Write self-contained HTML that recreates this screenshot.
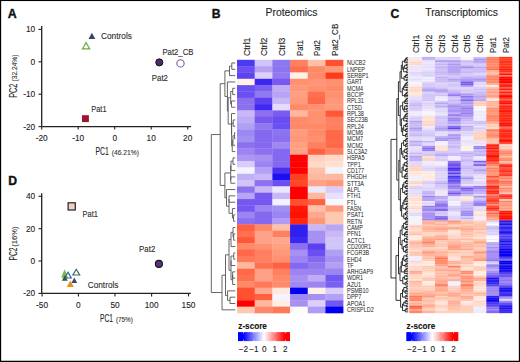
<!DOCTYPE html>
<html><head><meta charset="utf-8"><style>
html,body{margin:0;padding:0;background:#fff;width:520px;height:362px;overflow:hidden}
svg{display:block}
text{font-family:"Liberation Sans", sans-serif}
</style></head><body>
<svg width="520" height="362" viewBox="0 0 520 362">
<rect x="0" y="0" width="520" height="362" fill="#fff"/>
<text x="7.80" y="17.80" font-size="12.4" fill="#111" stroke="#111" stroke-width="0.35" font-weight="bold">A</text>
<path d="M41.7 26.0V126.6M41.7 126.6H191.1" stroke="#222" stroke-width="1.3" fill="none"/>
<path d="M38.5 29.4H41.7" stroke="#222" stroke-width="1.1"/>
<text x="35.20" y="32.40" font-size="8.3" fill="#222" stroke="#222" stroke-width="0.1" text-anchor="end">10</text>
<path d="M38.5 61.8H41.7" stroke="#222" stroke-width="1.1"/>
<text x="35.20" y="64.80" font-size="8.3" fill="#222" stroke="#222" stroke-width="0.1" text-anchor="end">0</text>
<path d="M38.5 94.2H41.7" stroke="#222" stroke-width="1.1"/>
<text x="35.20" y="97.20" font-size="8.3" fill="#222" stroke="#222" stroke-width="0.1" text-anchor="end">-10</text>
<path d="M38.5 126.6H41.7" stroke="#222" stroke-width="1.1"/>
<text x="35.20" y="129.60" font-size="8.3" fill="#222" stroke="#222" stroke-width="0.1" text-anchor="end">-20</text>
<path d="M41.7 126.6V129.6" stroke="#222" stroke-width="1.1"/>
<text x="41.70" y="140.80" font-size="8.3" fill="#222" stroke="#222" stroke-width="0.1" text-anchor="middle">-20</text>
<path d="M78.2 126.6V129.6" stroke="#222" stroke-width="1.1"/>
<text x="78.20" y="140.80" font-size="8.3" fill="#222" stroke="#222" stroke-width="0.1" text-anchor="middle">-10</text>
<path d="M114.7 126.6V129.6" stroke="#222" stroke-width="1.1"/>
<text x="114.70" y="140.80" font-size="8.3" fill="#222" stroke="#222" stroke-width="0.1" text-anchor="middle">0</text>
<path d="M151.2 126.6V129.6" stroke="#222" stroke-width="1.1"/>
<text x="151.20" y="140.80" font-size="8.3" fill="#222" stroke="#222" stroke-width="0.1" text-anchor="middle">10</text>
<path d="M187.7 126.6V129.6" stroke="#222" stroke-width="1.1"/>
<text x="187.70" y="140.80" font-size="8.3" fill="#222" stroke="#222" stroke-width="0.1" text-anchor="middle">20</text>
<text x="95.50" y="155.00" font-size="11.6" fill="#222" stroke="#222" stroke-width="0.1" textLength="13.3" lengthAdjust="spacingAndGlyphs">PC1</text>
<text x="111.70" y="154.70" font-size="7.7" fill="#333" stroke="#333" stroke-width="0.1" textLength="27.2" lengthAdjust="spacingAndGlyphs">(46.21%)</text>
<text x="16.80" y="97.70" font-size="11.6" fill="#222" stroke="#222" stroke-width="0.1" textLength="14.0" lengthAdjust="spacingAndGlyphs" transform="rotate(-90 16.80 97.70)">PC2</text>
<text x="16.70" y="81.50" font-size="7.7" fill="#333" stroke="#333" stroke-width="0.1" textLength="27.0" lengthAdjust="spacingAndGlyphs" transform="rotate(-90 16.70 81.50)">(32.24%)</text>
<polygon points="91.90,32.80 88.50,39.00 95.30,39.00" fill="#3b4466"/>
<polygon points="86.10,42.60 82.50,48.80 89.70,48.80" fill="none" stroke="#6aaa44" stroke-width="1.2" stroke-linejoin="miter"/>
<text x="101.00" y="39.40" font-size="9.0" fill="#2a2a2a" stroke="#2a2a2a" stroke-width="0.1" textLength="30.9" lengthAdjust="spacingAndGlyphs">Controls</text>
<circle cx="159.3" cy="62.4" r="3.55" fill="#4b2a6b" stroke="#111" stroke-width="1"/>
<circle cx="180.5" cy="63.4" r="3.65" fill="#fff" stroke="#7d5b9e" stroke-width="1.1"/>
<text x="162.40" y="54.70" font-size="8.2" fill="#2a2a2a" stroke="#2a2a2a" stroke-width="0.1" textLength="31.1" lengthAdjust="spacingAndGlyphs">Pat2_CB</text>
<text x="151.80" y="81.00" font-size="8.2" fill="#2a2a2a" stroke="#2a2a2a" stroke-width="0.1" textLength="16.2" lengthAdjust="spacingAndGlyphs">Pat2</text>
<rect x="82" y="115.2" width="6.9" height="6.9" fill="#a3122e"/>
<text x="91.30" y="112.10" font-size="8.5" fill="#2a2a2a" stroke="#2a2a2a" stroke-width="0.1" textLength="15.2" lengthAdjust="spacingAndGlyphs">Pat1</text>
<text x="8.20" y="184.90" font-size="12.2" fill="#111" stroke="#111" stroke-width="0.35" font-weight="bold">D</text>
<path d="M41.7 193.2V293.4M41.7 293.4H190.8" stroke="#222" stroke-width="1.3" fill="none"/>
<path d="M38.5 196.3H41.7" stroke="#222" stroke-width="1.1"/>
<text x="35.20" y="199.30" font-size="8.3" fill="#222" stroke="#222" stroke-width="0.1" text-anchor="end">40</text>
<path d="M38.5 228.7H41.7" stroke="#222" stroke-width="1.1"/>
<text x="35.20" y="231.70" font-size="8.3" fill="#222" stroke="#222" stroke-width="0.1" text-anchor="end">20</text>
<path d="M38.5 261.0H41.7" stroke="#222" stroke-width="1.1"/>
<text x="35.20" y="264.00" font-size="8.3" fill="#222" stroke="#222" stroke-width="0.1" text-anchor="end">0</text>
<path d="M38.5 293.4H41.7" stroke="#222" stroke-width="1.1"/>
<text x="35.20" y="296.40" font-size="8.3" fill="#222" stroke="#222" stroke-width="0.1" text-anchor="end">-20</text>
<path d="M42.1 293.4V296.4" stroke="#222" stroke-width="1.1"/>
<text x="42.10" y="307.60" font-size="8.3" fill="#222" stroke="#222" stroke-width="0.1" text-anchor="middle">-50</text>
<path d="M78.4 293.4V296.4" stroke="#222" stroke-width="1.1"/>
<text x="78.40" y="307.60" font-size="8.3" fill="#222" stroke="#222" stroke-width="0.1" text-anchor="middle">0</text>
<path d="M115.0 293.4V296.4" stroke="#222" stroke-width="1.1"/>
<text x="115.00" y="307.60" font-size="8.3" fill="#222" stroke="#222" stroke-width="0.1" text-anchor="middle">50</text>
<path d="M151.6 293.4V296.4" stroke="#222" stroke-width="1.1"/>
<text x="151.60" y="307.60" font-size="8.3" fill="#222" stroke="#222" stroke-width="0.1" text-anchor="middle">100</text>
<path d="M188.5 293.4V296.4" stroke="#222" stroke-width="1.1"/>
<text x="188.50" y="307.60" font-size="8.3" fill="#222" stroke="#222" stroke-width="0.1" text-anchor="middle">150</text>
<text x="100.00" y="321.90" font-size="11.4" fill="#222" stroke="#222" stroke-width="0.1" textLength="13.0" lengthAdjust="spacingAndGlyphs">PC1</text>
<text x="115.90" y="321.80" font-size="7.7" fill="#333" stroke="#333" stroke-width="0.1" textLength="17.0" lengthAdjust="spacingAndGlyphs">(75%)</text>
<text x="16.80" y="260.40" font-size="11.4" fill="#222" stroke="#222" stroke-width="0.1" textLength="12.8" lengthAdjust="spacingAndGlyphs" transform="rotate(-90 16.80 260.40)">PC2</text>
<text x="16.70" y="246.80" font-size="7.7" fill="#333" stroke="#333" stroke-width="0.1" textLength="20.3" lengthAdjust="spacingAndGlyphs" transform="rotate(-90 16.70 246.80)">(16%)</text>
<rect x="68.1" y="202.8" width="7.2" height="7.2" fill="#f2cfc6" stroke="#222" stroke-width="1.2"/>
<text x="82.60" y="216.90" font-size="8.5" fill="#2a2a2a" stroke="#2a2a2a" stroke-width="0.1" textLength="15.4" lengthAdjust="spacingAndGlyphs">Pat1</text>
<text x="139.10" y="251.50" font-size="8.5" fill="#2a2a2a" stroke="#2a2a2a" stroke-width="0.1" textLength="16.3" lengthAdjust="spacingAndGlyphs">Pat2</text>
<circle cx="158.9" cy="263.9" r="3.5" fill="#5b3181" stroke="#111" stroke-width="1.1"/>
<polygon points="64.60,269.20 61.10,277.70 68.10,277.70" fill="#7ab848"/>
<polygon points="68.00,272.30 64.70,278.00 71.30,278.00" fill="none" stroke="#3a5aa0" stroke-width="1.2" stroke-linejoin="miter"/>
<polygon points="64.80,275.40 61.80,280.80 67.80,280.80" fill="#2a5a4a"/>
<polygon points="76.30,269.30 72.90,275.00 79.70,275.00" fill="none" stroke="#3a6a5a" stroke-width="1.2" stroke-linejoin="miter"/>
<polygon points="74.30,277.40 71.40,283.00 77.20,283.00" fill="#3a4a6a"/>
<polygon points="70.30,280.50 66.80,286.90 73.80,286.90" fill="#e8901a"/>
<text x="87.70" y="287.70" font-size="9.0" fill="#2a2a2a" stroke="#2a2a2a" stroke-width="0.1" textLength="30.8" lengthAdjust="spacingAndGlyphs">Controls</text>
<text x="211.80" y="18.20" font-size="12.2" fill="#111" stroke="#111" stroke-width="0.35" font-weight="bold">B</text>
<text x="265.50" y="16.25" font-size="10.5" fill="#222" stroke="#222" stroke-width="0.1" textLength="52.0" lengthAdjust="spacingAndGlyphs">Proteomics</text>
<text x="249.64" y="55.90" font-size="8.7" fill="#222" stroke="#222" stroke-width="0.1" transform="rotate(-90 249.64 55.90)">Ctrl1</text>
<text x="267.32" y="55.90" font-size="8.7" fill="#222" stroke="#222" stroke-width="0.1" transform="rotate(-90 267.32 55.90)">Ctrl2</text>
<text x="285.01" y="55.90" font-size="8.7" fill="#222" stroke="#222" stroke-width="0.1" transform="rotate(-90 285.01 55.90)">Ctrl3</text>
<text x="302.69" y="55.90" font-size="8.7" fill="#222" stroke="#222" stroke-width="0.1" textLength="15.8" lengthAdjust="spacingAndGlyphs" transform="rotate(-90 302.69 55.90)">Pat1</text>
<text x="320.38" y="55.90" font-size="8.7" fill="#222" stroke="#222" stroke-width="0.1" textLength="15.8" lengthAdjust="spacingAndGlyphs" transform="rotate(-90 320.38 55.90)">Pat2</text>
<text x="338.06" y="55.90" font-size="8.7" fill="#222" stroke="#222" stroke-width="0.1" textLength="32.2" lengthAdjust="spacingAndGlyphs" transform="rotate(-90 338.06 55.90)">Pat2_CB</text>
<rect x="237.00" y="59.80" width="17.98" height="6.63" fill="#4A3AF0"/>
<rect x="254.68" y="59.80" width="17.98" height="6.63" fill="#D0C4F8"/>
<rect x="272.37" y="59.80" width="17.98" height="6.63" fill="#8C78F0"/>
<rect x="290.05" y="59.80" width="17.98" height="6.63" fill="#FF8060"/>
<rect x="307.73" y="59.80" width="17.98" height="6.63" fill="#FFC0A8"/>
<rect x="325.42" y="59.80" width="17.98" height="6.63" fill="#FF5030"/>
<rect x="237.00" y="66.13" width="17.98" height="6.63" fill="#6A50F0"/>
<rect x="254.68" y="66.13" width="17.98" height="6.63" fill="#B8A0F4"/>
<rect x="272.37" y="66.13" width="17.98" height="6.63" fill="#8C74F0"/>
<rect x="290.05" y="66.13" width="17.98" height="6.63" fill="#FF7050"/>
<rect x="307.73" y="66.13" width="17.98" height="6.63" fill="#FF8A68"/>
<rect x="325.42" y="66.13" width="17.98" height="6.63" fill="#FF9878"/>
<rect x="237.00" y="72.46" width="17.98" height="6.63" fill="#5E44F0"/>
<rect x="254.68" y="72.46" width="17.98" height="6.63" fill="#DCD0FA"/>
<rect x="272.37" y="72.46" width="17.98" height="6.63" fill="#9478F0"/>
<rect x="290.05" y="72.46" width="17.98" height="6.63" fill="#FFF0E8"/>
<rect x="307.73" y="72.46" width="17.98" height="6.63" fill="#FF8A68"/>
<rect x="325.42" y="72.46" width="17.98" height="6.63" fill="#FF3A18"/>
<rect x="237.00" y="78.79" width="17.98" height="6.63" fill="#FFF0E6"/>
<rect x="254.68" y="78.79" width="17.98" height="6.63" fill="#3A28F0"/>
<rect x="272.37" y="78.79" width="17.98" height="6.63" fill="#7858F0"/>
<rect x="290.05" y="78.79" width="17.98" height="6.63" fill="#FF9070"/>
<rect x="307.73" y="78.79" width="17.98" height="6.63" fill="#FF9478"/>
<rect x="325.42" y="78.79" width="17.98" height="6.63" fill="#FF9070"/>
<rect x="237.00" y="85.12" width="17.98" height="6.63" fill="#6A50F0"/>
<rect x="254.68" y="85.12" width="17.98" height="6.63" fill="#7A60F0"/>
<rect x="272.37" y="85.12" width="17.98" height="6.63" fill="#C0ACF4"/>
<rect x="290.05" y="85.12" width="17.98" height="6.63" fill="#FF9878"/>
<rect x="307.73" y="85.12" width="17.98" height="6.63" fill="#FF9070"/>
<rect x="325.42" y="85.12" width="17.98" height="6.63" fill="#FF8A68"/>
<rect x="237.00" y="91.45" width="17.98" height="6.63" fill="#6A50F0"/>
<rect x="254.68" y="91.45" width="17.98" height="6.63" fill="#9078F0"/>
<rect x="272.37" y="91.45" width="17.98" height="6.63" fill="#B8A4F4"/>
<rect x="290.05" y="91.45" width="17.98" height="6.63" fill="#FFA080"/>
<rect x="307.73" y="91.45" width="17.98" height="6.63" fill="#FF7050"/>
<rect x="325.42" y="91.45" width="17.98" height="6.63" fill="#FF9070"/>
<rect x="237.00" y="97.78" width="17.98" height="6.63" fill="#8C70F0"/>
<rect x="254.68" y="97.78" width="17.98" height="6.63" fill="#5C40F0"/>
<rect x="272.37" y="97.78" width="17.98" height="6.63" fill="#C8B8F6"/>
<rect x="290.05" y="97.78" width="17.98" height="6.63" fill="#FF9A7A"/>
<rect x="307.73" y="97.78" width="17.98" height="6.63" fill="#FF6848"/>
<rect x="325.42" y="97.78" width="17.98" height="6.63" fill="#FF9878"/>
<rect x="237.00" y="104.11" width="17.98" height="6.63" fill="#8C70F0"/>
<rect x="254.68" y="104.11" width="17.98" height="6.63" fill="#4028F0"/>
<rect x="272.37" y="104.11" width="17.98" height="6.63" fill="#E4DCFC"/>
<rect x="290.05" y="104.11" width="17.98" height="6.63" fill="#FF8A68"/>
<rect x="307.73" y="104.11" width="17.98" height="6.63" fill="#FF9070"/>
<rect x="325.42" y="104.11" width="17.98" height="6.63" fill="#FF9A7A"/>
<rect x="237.00" y="110.44" width="17.98" height="6.63" fill="#C8B8F6"/>
<rect x="254.68" y="110.44" width="17.98" height="6.63" fill="#8C70F0"/>
<rect x="272.37" y="110.44" width="17.98" height="6.63" fill="#7A5CF0"/>
<rect x="290.05" y="110.44" width="17.98" height="6.63" fill="#FFB8A0"/>
<rect x="307.73" y="110.44" width="17.98" height="6.63" fill="#FF9070"/>
<rect x="325.42" y="110.44" width="17.98" height="6.63" fill="#FF5838"/>
<rect x="237.00" y="116.77" width="17.98" height="6.63" fill="#C0ACF4"/>
<rect x="254.68" y="116.77" width="17.98" height="6.63" fill="#7858F0"/>
<rect x="272.37" y="116.77" width="17.98" height="6.63" fill="#6A4CF0"/>
<rect x="290.05" y="116.77" width="17.98" height="6.63" fill="#FF8A68"/>
<rect x="307.73" y="116.77" width="17.98" height="6.63" fill="#FF9070"/>
<rect x="325.42" y="116.77" width="17.98" height="6.63" fill="#FF8060"/>
<rect x="237.00" y="123.10" width="17.98" height="6.63" fill="#B0A0F4"/>
<rect x="254.68" y="123.10" width="17.98" height="6.63" fill="#9078F0"/>
<rect x="272.37" y="123.10" width="17.98" height="6.63" fill="#6A50F0"/>
<rect x="290.05" y="123.10" width="17.98" height="6.63" fill="#FF8868"/>
<rect x="307.73" y="123.10" width="17.98" height="6.63" fill="#FF8A6A"/>
<rect x="325.42" y="123.10" width="17.98" height="6.63" fill="#FF8060"/>
<rect x="237.00" y="129.43" width="17.98" height="6.63" fill="#9C88F2"/>
<rect x="254.68" y="129.43" width="17.98" height="6.63" fill="#8468F0"/>
<rect x="272.37" y="129.43" width="17.98" height="6.63" fill="#8C74F0"/>
<rect x="290.05" y="129.43" width="17.98" height="6.63" fill="#FF9C80"/>
<rect x="307.73" y="129.43" width="17.98" height="6.63" fill="#FF8A6A"/>
<rect x="325.42" y="129.43" width="17.98" height="6.63" fill="#FF6848"/>
<rect x="237.00" y="135.76" width="17.98" height="6.63" fill="#A490F2"/>
<rect x="254.68" y="135.76" width="17.98" height="6.63" fill="#8468F0"/>
<rect x="272.37" y="135.76" width="17.98" height="6.63" fill="#8A70F0"/>
<rect x="290.05" y="135.76" width="17.98" height="6.63" fill="#FF9878"/>
<rect x="307.73" y="135.76" width="17.98" height="6.63" fill="#FF9070"/>
<rect x="325.42" y="135.76" width="17.98" height="6.63" fill="#FF6848"/>
<rect x="237.00" y="142.09" width="17.98" height="6.63" fill="#8C70F0"/>
<rect x="254.68" y="142.09" width="17.98" height="6.63" fill="#8468F0"/>
<rect x="272.37" y="142.09" width="17.98" height="6.63" fill="#A088F2"/>
<rect x="290.05" y="142.09" width="17.98" height="6.63" fill="#FFA080"/>
<rect x="307.73" y="142.09" width="17.98" height="6.63" fill="#FF8060"/>
<rect x="325.42" y="142.09" width="17.98" height="6.63" fill="#FF6848"/>
<rect x="237.00" y="148.42" width="17.98" height="6.63" fill="#9C84F2"/>
<rect x="254.68" y="148.42" width="17.98" height="6.63" fill="#8C70F0"/>
<rect x="272.37" y="148.42" width="17.98" height="6.63" fill="#8468F0"/>
<rect x="290.05" y="148.42" width="17.98" height="6.63" fill="#FFA088"/>
<rect x="307.73" y="148.42" width="17.98" height="6.63" fill="#FF6040"/>
<rect x="325.42" y="148.42" width="17.98" height="6.63" fill="#FF8060"/>
<rect x="237.00" y="154.75" width="17.98" height="6.63" fill="#AC98F2"/>
<rect x="254.68" y="154.75" width="17.98" height="6.63" fill="#A890F2"/>
<rect x="272.37" y="154.75" width="17.98" height="6.63" fill="#8468F0"/>
<rect x="290.05" y="154.75" width="17.98" height="6.63" fill="#FF0000"/>
<rect x="307.73" y="154.75" width="17.98" height="6.63" fill="#FFD0C0"/>
<rect x="325.42" y="154.75" width="17.98" height="6.63" fill="#FFD8C8"/>
<rect x="237.00" y="161.08" width="17.98" height="6.63" fill="#D8CCFA"/>
<rect x="254.68" y="161.08" width="17.98" height="6.63" fill="#9C84F2"/>
<rect x="272.37" y="161.08" width="17.98" height="6.63" fill="#8468F0"/>
<rect x="290.05" y="161.08" width="17.98" height="6.63" fill="#FF0000"/>
<rect x="307.73" y="161.08" width="17.98" height="6.63" fill="#FFD8C8"/>
<rect x="325.42" y="161.08" width="17.98" height="6.63" fill="#FFE0D4"/>
<rect x="237.00" y="167.41" width="17.98" height="6.63" fill="#F4F4FE"/>
<rect x="254.68" y="167.41" width="17.98" height="6.63" fill="#B4A0F4"/>
<rect x="272.37" y="167.41" width="17.98" height="6.63" fill="#4A30F0"/>
<rect x="290.05" y="167.41" width="17.98" height="6.63" fill="#FF0000"/>
<rect x="307.73" y="167.41" width="17.98" height="6.63" fill="#FFC0A8"/>
<rect x="325.42" y="167.41" width="17.98" height="6.63" fill="#F4F4FE"/>
<rect x="237.00" y="173.74" width="17.98" height="6.63" fill="#C0B0F6"/>
<rect x="254.68" y="173.74" width="17.98" height="6.63" fill="#C8B8F6"/>
<rect x="272.37" y="173.74" width="17.98" height="6.63" fill="#1C10F0"/>
<rect x="290.05" y="173.74" width="17.98" height="6.63" fill="#FF4020"/>
<rect x="307.73" y="173.74" width="17.98" height="6.63" fill="#FFB8A0"/>
<rect x="325.42" y="173.74" width="17.98" height="6.63" fill="#FFB8A0"/>
<rect x="237.00" y="180.07" width="17.98" height="6.63" fill="#D0C4F8"/>
<rect x="254.68" y="180.07" width="17.98" height="6.63" fill="#8C70F0"/>
<rect x="272.37" y="180.07" width="17.98" height="6.63" fill="#6A50F0"/>
<rect x="290.05" y="180.07" width="17.98" height="6.63" fill="#FF4828"/>
<rect x="307.73" y="180.07" width="17.98" height="6.63" fill="#FFA088"/>
<rect x="325.42" y="180.07" width="17.98" height="6.63" fill="#FF9878"/>
<rect x="237.00" y="186.40" width="17.98" height="6.63" fill="#8C74F0"/>
<rect x="254.68" y="186.40" width="17.98" height="6.63" fill="#C8B8F6"/>
<rect x="272.37" y="186.40" width="17.98" height="6.63" fill="#ECE8FC"/>
<rect x="290.05" y="186.40" width="17.98" height="6.63" fill="#FF0000"/>
<rect x="307.73" y="186.40" width="17.98" height="6.63" fill="#ECE8FC"/>
<rect x="325.42" y="186.40" width="17.98" height="6.63" fill="#D8CCFA"/>
<rect x="237.00" y="192.73" width="17.98" height="6.63" fill="#B8A4F4"/>
<rect x="254.68" y="192.73" width="17.98" height="6.63" fill="#7458F0"/>
<rect x="272.37" y="192.73" width="17.98" height="6.63" fill="#C8B8F6"/>
<rect x="290.05" y="192.73" width="17.98" height="6.63" fill="#FF0000"/>
<rect x="307.73" y="192.73" width="17.98" height="6.63" fill="#FFB8A0"/>
<rect x="325.42" y="192.73" width="17.98" height="6.63" fill="#E8E0FC"/>
<rect x="237.00" y="199.06" width="17.98" height="6.63" fill="#7458F0"/>
<rect x="254.68" y="199.06" width="17.98" height="6.63" fill="#7458F0"/>
<rect x="272.37" y="199.06" width="17.98" height="6.63" fill="#F4F0FE"/>
<rect x="290.05" y="199.06" width="17.98" height="6.63" fill="#FF5030"/>
<rect x="307.73" y="199.06" width="17.98" height="6.63" fill="#FF6040"/>
<rect x="325.42" y="199.06" width="17.98" height="6.63" fill="#F8F8FF"/>
<rect x="237.00" y="205.39" width="17.98" height="6.63" fill="#7458F0"/>
<rect x="254.68" y="205.39" width="17.98" height="6.63" fill="#9C84F2"/>
<rect x="272.37" y="205.39" width="17.98" height="6.63" fill="#A090F2"/>
<rect x="290.05" y="205.39" width="17.98" height="6.63" fill="#FF1808"/>
<rect x="307.73" y="205.39" width="17.98" height="6.63" fill="#FFC0A8"/>
<rect x="325.42" y="205.39" width="17.98" height="6.63" fill="#FF9C80"/>
<rect x="237.00" y="211.72" width="17.98" height="6.63" fill="#9C84F2"/>
<rect x="254.68" y="211.72" width="17.98" height="6.63" fill="#8468F0"/>
<rect x="272.37" y="211.72" width="17.98" height="6.63" fill="#9C84F2"/>
<rect x="290.05" y="211.72" width="17.98" height="6.63" fill="#FF1000"/>
<rect x="307.73" y="211.72" width="17.98" height="6.63" fill="#FFA890"/>
<rect x="325.42" y="211.72" width="17.98" height="6.63" fill="#FFC8B0"/>
<rect x="237.00" y="218.05" width="17.98" height="6.63" fill="#8C70F0"/>
<rect x="254.68" y="218.05" width="17.98" height="6.63" fill="#8468F0"/>
<rect x="272.37" y="218.05" width="17.98" height="6.63" fill="#B09CF4"/>
<rect x="290.05" y="218.05" width="17.98" height="6.63" fill="#FF2810"/>
<rect x="307.73" y="218.05" width="17.98" height="6.63" fill="#FF9878"/>
<rect x="325.42" y="218.05" width="17.98" height="6.63" fill="#FFC8B0"/>
<rect x="237.00" y="224.38" width="17.98" height="6.63" fill="#FF6040"/>
<rect x="254.68" y="224.38" width="17.98" height="6.63" fill="#FF8868"/>
<rect x="272.37" y="224.38" width="17.98" height="6.63" fill="#FFC0A8"/>
<rect x="290.05" y="224.38" width="17.98" height="6.63" fill="#3020F0"/>
<rect x="307.73" y="224.38" width="17.98" height="6.63" fill="#C8B8F6"/>
<rect x="325.42" y="224.38" width="17.98" height="6.63" fill="#B8A8F4"/>
<rect x="237.00" y="230.71" width="17.98" height="6.63" fill="#FF7050"/>
<rect x="254.68" y="230.71" width="17.98" height="6.63" fill="#FFA088"/>
<rect x="272.37" y="230.71" width="17.98" height="6.63" fill="#FF8060"/>
<rect x="290.05" y="230.71" width="17.98" height="6.63" fill="#3020F0"/>
<rect x="307.73" y="230.71" width="17.98" height="6.63" fill="#A890F2"/>
<rect x="325.42" y="230.71" width="17.98" height="6.63" fill="#C8B8F6"/>
<rect x="237.00" y="237.04" width="17.98" height="6.63" fill="#FF5838"/>
<rect x="254.68" y="237.04" width="17.98" height="6.63" fill="#FFA088"/>
<rect x="272.37" y="237.04" width="17.98" height="6.63" fill="#FFA890"/>
<rect x="290.05" y="237.04" width="17.98" height="6.63" fill="#3828F0"/>
<rect x="307.73" y="237.04" width="17.98" height="6.63" fill="#A890F2"/>
<rect x="325.42" y="237.04" width="17.98" height="6.63" fill="#D0C4F8"/>
<rect x="237.00" y="243.37" width="17.98" height="6.63" fill="#FF8A68"/>
<rect x="254.68" y="243.37" width="17.98" height="6.63" fill="#FF9070"/>
<rect x="272.37" y="243.37" width="17.98" height="6.63" fill="#FFA080"/>
<rect x="290.05" y="243.37" width="17.98" height="6.63" fill="#8C70F0"/>
<rect x="307.73" y="243.37" width="17.98" height="6.63" fill="#5C40F0"/>
<rect x="325.42" y="243.37" width="17.98" height="6.63" fill="#D0C4F8"/>
<rect x="237.00" y="249.70" width="17.98" height="6.63" fill="#FF6848"/>
<rect x="254.68" y="249.70" width="17.98" height="6.63" fill="#FF8060"/>
<rect x="272.37" y="249.70" width="17.98" height="6.63" fill="#FF9878"/>
<rect x="290.05" y="249.70" width="17.98" height="6.63" fill="#A890F2"/>
<rect x="307.73" y="249.70" width="17.98" height="6.63" fill="#6A50F0"/>
<rect x="325.42" y="249.70" width="17.98" height="6.63" fill="#B0A0F4"/>
<rect x="237.00" y="256.03" width="17.98" height="6.63" fill="#FF7858"/>
<rect x="254.68" y="256.03" width="17.98" height="6.63" fill="#FF8060"/>
<rect x="272.37" y="256.03" width="17.98" height="6.63" fill="#FF9070"/>
<rect x="290.05" y="256.03" width="17.98" height="6.63" fill="#9C84F2"/>
<rect x="307.73" y="256.03" width="17.98" height="6.63" fill="#8468F0"/>
<rect x="325.42" y="256.03" width="17.98" height="6.63" fill="#A890F2"/>
<rect x="237.00" y="262.36" width="17.98" height="6.63" fill="#FFB8A0"/>
<rect x="254.68" y="262.36" width="17.98" height="6.63" fill="#FF7050"/>
<rect x="272.37" y="262.36" width="17.98" height="6.63" fill="#FF6040"/>
<rect x="290.05" y="262.36" width="17.98" height="6.63" fill="#8468F0"/>
<rect x="307.73" y="262.36" width="17.98" height="6.63" fill="#9078F0"/>
<rect x="325.42" y="262.36" width="17.98" height="6.63" fill="#B0A0F4"/>
<rect x="237.00" y="268.69" width="17.98" height="6.63" fill="#FF6848"/>
<rect x="254.68" y="268.69" width="17.98" height="6.63" fill="#FFA088"/>
<rect x="272.37" y="268.69" width="17.98" height="6.63" fill="#FF8060"/>
<rect x="290.05" y="268.69" width="17.98" height="6.63" fill="#9C84F2"/>
<rect x="307.73" y="268.69" width="17.98" height="6.63" fill="#9C84F2"/>
<rect x="325.42" y="268.69" width="17.98" height="6.63" fill="#9C84F2"/>
<rect x="237.00" y="275.02" width="17.98" height="6.63" fill="#FF7050"/>
<rect x="254.68" y="275.02" width="17.98" height="6.63" fill="#FFA088"/>
<rect x="272.37" y="275.02" width="17.98" height="6.63" fill="#FF8A68"/>
<rect x="290.05" y="275.02" width="17.98" height="6.63" fill="#A890F2"/>
<rect x="307.73" y="275.02" width="17.98" height="6.63" fill="#C0ACF4"/>
<rect x="325.42" y="275.02" width="17.98" height="6.63" fill="#7058F0"/>
<rect x="237.00" y="281.35" width="17.98" height="6.63" fill="#FF8A68"/>
<rect x="254.68" y="281.35" width="17.98" height="6.63" fill="#FF7858"/>
<rect x="272.37" y="281.35" width="17.98" height="6.63" fill="#FF8A6A"/>
<rect x="290.05" y="281.35" width="17.98" height="6.63" fill="#A088F2"/>
<rect x="307.73" y="281.35" width="17.98" height="6.63" fill="#9C84F2"/>
<rect x="325.42" y="281.35" width="17.98" height="6.63" fill="#7A60F0"/>
<rect x="237.00" y="287.68" width="17.98" height="6.63" fill="#FF5030"/>
<rect x="254.68" y="287.68" width="17.98" height="6.63" fill="#FFA890"/>
<rect x="272.37" y="287.68" width="17.98" height="6.63" fill="#FFE8E0"/>
<rect x="290.05" y="287.68" width="17.98" height="6.63" fill="#0000F0"/>
<rect x="307.73" y="287.68" width="17.98" height="6.63" fill="#FFF0E8"/>
<rect x="325.42" y="287.68" width="17.98" height="6.63" fill="#D8CCFA"/>
<rect x="237.00" y="294.01" width="17.98" height="6.63" fill="#FF5030"/>
<rect x="254.68" y="294.01" width="17.98" height="6.63" fill="#FF6040"/>
<rect x="272.37" y="294.01" width="17.98" height="6.63" fill="#F4F4FE"/>
<rect x="290.05" y="294.01" width="17.98" height="6.63" fill="#A088F2"/>
<rect x="307.73" y="294.01" width="17.98" height="6.63" fill="#A890F2"/>
<rect x="325.42" y="294.01" width="17.98" height="6.63" fill="#B4A0F4"/>
<rect x="237.00" y="300.34" width="17.98" height="6.63" fill="#FF0000"/>
<rect x="254.68" y="300.34" width="17.98" height="6.63" fill="#FFB8A0"/>
<rect x="272.37" y="300.34" width="17.98" height="6.63" fill="#FFECE4"/>
<rect x="290.05" y="300.34" width="17.98" height="6.63" fill="#A890F2"/>
<rect x="307.73" y="300.34" width="17.98" height="6.63" fill="#DCD0FA"/>
<rect x="325.42" y="300.34" width="17.98" height="6.63" fill="#7058F0"/>
<rect x="237.00" y="306.67" width="17.98" height="6.63" fill="#FFC8B0"/>
<rect x="254.68" y="306.67" width="17.98" height="6.63" fill="#FF8868"/>
<rect x="272.37" y="306.67" width="17.98" height="6.63" fill="#FF7858"/>
<rect x="290.05" y="306.67" width="17.98" height="6.63" fill="#FFFCF8"/>
<rect x="307.73" y="306.67" width="17.98" height="6.63" fill="#B09CF4"/>
<rect x="325.42" y="306.67" width="17.98" height="6.63" fill="#0000F0"/>
<text x="0" y="0" font-size="6.3" fill="#222" transform="translate(347.0 65.27) scale(0.87 1)">NUCB2</text>
<text x="0" y="0" font-size="6.3" fill="#222" transform="translate(347.0 71.59) scale(0.87 1)">LNPEP</text>
<text x="0" y="0" font-size="6.3" fill="#222" transform="translate(347.0 77.92) scale(0.87 1)">SERBP1</text>
<text x="0" y="0" font-size="6.3" fill="#222" transform="translate(347.0 84.25) scale(0.87 1)">GART</text>
<text x="0" y="0" font-size="6.3" fill="#222" transform="translate(347.0 90.58) scale(0.87 1)">MCM4</text>
<text x="0" y="0" font-size="6.3" fill="#222" transform="translate(347.0 96.91) scale(0.87 1)">BCCIP</text>
<text x="0" y="0" font-size="6.3" fill="#222" transform="translate(347.0 103.24) scale(0.87 1)">RPL31</text>
<text x="0" y="0" font-size="6.3" fill="#222" transform="translate(347.0 109.58) scale(0.87 1)">CTSD</text>
<text x="0" y="0" font-size="6.3" fill="#222" transform="translate(347.0 115.90) scale(0.87 1)">RPL38</text>
<text x="0" y="0" font-size="6.3" fill="#222" transform="translate(347.0 122.23) scale(0.87 1)">SEC23B</text>
<text x="0" y="0" font-size="6.3" fill="#222" transform="translate(347.0 128.56) scale(0.87 1)">RPL24</text>
<text x="0" y="0" font-size="6.3" fill="#222" transform="translate(347.0 134.90) scale(0.87 1)">MCM6</text>
<text x="0" y="0" font-size="6.3" fill="#222" transform="translate(347.0 141.23) scale(0.87 1)">MCM7</text>
<text x="0" y="0" font-size="6.3" fill="#222" transform="translate(347.0 147.56) scale(0.87 1)">MCM2</text>
<text x="0" y="0" font-size="6.3" fill="#222" transform="translate(347.0 153.88) scale(0.87 1)">SLC3A2</text>
<text x="0" y="0" font-size="6.3" fill="#222" transform="translate(347.0 160.22) scale(0.87 1)">HSPA5</text>
<text x="0" y="0" font-size="6.3" fill="#222" transform="translate(347.0 166.55) scale(0.87 1)">TPP1</text>
<text x="0" y="0" font-size="6.3" fill="#222" transform="translate(347.0 172.88) scale(0.87 1)">CD177</text>
<text x="0" y="0" font-size="6.3" fill="#222" transform="translate(347.0 179.21) scale(0.87 1)">PHGDH</text>
<text x="0" y="0" font-size="6.3" fill="#222" transform="translate(347.0 185.54) scale(0.87 1)">STT3A</text>
<text x="0" y="0" font-size="6.3" fill="#222" transform="translate(347.0 191.87) scale(0.87 1)">ALPL</text>
<text x="0" y="0" font-size="6.3" fill="#222" transform="translate(347.0 198.19) scale(0.87 1)">FTH1</text>
<text x="0" y="0" font-size="6.3" fill="#222" transform="translate(347.0 204.53) scale(0.87 1)">FTL</text>
<text x="0" y="0" font-size="6.3" fill="#222" transform="translate(347.0 210.86) scale(0.87 1)">FASN</text>
<text x="0" y="0" font-size="6.3" fill="#222" transform="translate(347.0 217.19) scale(0.87 1)">PSAT1</text>
<text x="0" y="0" font-size="6.3" fill="#222" transform="translate(347.0 223.51) scale(0.87 1)">RETN</text>
<text x="0" y="0" font-size="6.3" fill="#222" transform="translate(347.0 229.85) scale(0.87 1)">CAMP</text>
<text x="0" y="0" font-size="6.3" fill="#222" transform="translate(347.0 236.18) scale(0.87 1)">PFN1</text>
<text x="0" y="0" font-size="6.3" fill="#222" transform="translate(347.0 242.50) scale(0.87 1)">ACTC1</text>
<text x="0" y="0" font-size="6.3" fill="#222" transform="translate(347.0 248.84) scale(0.87 1)">CD200R1</text>
<text x="0" y="0" font-size="6.3" fill="#222" transform="translate(347.0 255.17) scale(0.87 1)">FCGR3B</text>
<text x="0" y="0" font-size="6.3" fill="#222" transform="translate(347.0 261.50) scale(0.87 1)">EHD4</text>
<text x="0" y="0" font-size="6.3" fill="#222" transform="translate(347.0 267.82) scale(0.87 1)">TF</text>
<text x="0" y="0" font-size="6.3" fill="#222" transform="translate(347.0 274.16) scale(0.87 1)">ARHGAP9</text>
<text x="0" y="0" font-size="6.3" fill="#222" transform="translate(347.0 280.49) scale(0.87 1)">WDR1</text>
<text x="0" y="0" font-size="6.3" fill="#222" transform="translate(347.0 286.81) scale(0.87 1)">AZU1</text>
<text x="0" y="0" font-size="6.3" fill="#222" transform="translate(347.0 293.15) scale(0.87 1)">PSMB10</text>
<text x="0" y="0" font-size="6.3" fill="#222" transform="translate(347.0 299.48) scale(0.87 1)">DPP7</text>
<text x="0" y="0" font-size="6.3" fill="#222" transform="translate(347.0 305.81) scale(0.87 1)">APOA1</text>
<text x="0" y="0" font-size="6.3" fill="#222" transform="translate(347.0 312.13) scale(0.87 1)">CRISPLD2</text>
<path d="M235.30 62.96L231.80 62.96M235.30 69.30L231.80 69.30M231.80 62.96L231.80 69.30M231.80 66.13L229.50 66.13M235.30 75.62L229.50 75.62M229.50 66.13L229.50 75.62M235.30 88.28L232.71 88.28M235.30 94.61L232.71 94.61M232.71 88.28L232.71 94.61M235.30 100.94L231.54 100.94M235.30 107.28L231.54 107.28M231.54 100.94L231.54 107.28M232.71 91.45L230.70 91.45M231.54 104.11L230.70 104.11M230.70 91.45L230.70 104.11M235.30 132.59L234.61 132.59M235.30 138.93L234.61 138.93M234.61 132.59L234.61 138.93M235.30 119.94L233.19 119.94M235.30 126.27L233.19 126.27M233.19 119.94L233.19 126.27M234.61 135.76L232.99 135.76M235.30 145.25L232.99 145.25M232.99 135.76L232.99 145.25M232.99 140.51L232.22 140.51M235.30 151.58L232.22 151.58M232.22 140.51L232.22 151.58M233.19 123.10L231.64 123.10M232.22 146.05L231.64 146.05M231.64 123.10L231.64 146.05M235.30 113.60L231.50 113.60M231.64 134.57L231.50 134.57M231.50 113.60L231.50 134.57M230.70 97.78L228.20 97.78M231.50 124.09L228.20 124.09M228.20 97.78L228.20 124.09M235.30 81.95L227.40 81.95M228.20 110.93L227.40 110.93M227.40 81.95L227.40 110.93M229.50 70.88L224.90 70.88M227.40 96.44L224.90 96.44M224.90 70.88L224.90 96.44M235.30 157.91L233.00 157.91M235.30 164.25L233.00 164.25M233.00 157.91L233.00 164.25M233.00 161.08L230.97 161.08M235.30 170.57L230.97 170.57M230.97 161.08L230.97 170.57M235.30 176.91L230.80 176.91M235.30 183.24L230.80 183.24M230.80 176.91L230.80 183.24M230.97 165.83L230.70 165.83M230.80 180.07L230.70 180.07M230.70 165.83L230.70 180.07M235.30 214.88L233.56 214.88M235.30 221.21L233.56 221.21M233.56 214.88L233.56 221.21M235.30 208.56L232.43 208.56M233.56 218.05L232.43 218.05M232.43 208.56L232.43 218.05M235.30 195.89L229.00 195.89M235.30 202.23L229.00 202.23M229.00 195.89L229.00 202.23M229.00 199.06L229.00 199.06M232.43 213.30L229.00 213.30M229.00 199.06L229.00 213.30M235.30 189.56L226.50 189.56M229.00 206.18L226.50 206.18M226.50 189.56L226.50 206.18M230.70 172.95L224.90 172.95M226.50 197.87L224.90 197.87M224.90 172.95L224.90 197.87M224.90 83.66L220.20 83.66M224.90 185.41L220.20 185.41M220.20 83.66L220.20 185.41M235.30 233.88L233.66 233.88M235.30 240.20L233.66 240.20M233.66 233.88L233.66 240.20M235.30 227.55L233.02 227.55M233.66 237.04L233.02 237.04M233.02 227.55L233.02 237.04M233.02 232.29L231.00 232.29M235.30 246.54L231.00 246.54M231.00 232.29L231.00 246.54M235.30 252.87L233.76 252.87M235.30 259.19L233.76 259.19M233.76 252.87L233.76 259.19M235.30 271.86L232.65 271.86M235.30 278.19L232.65 278.19M232.65 271.86L232.65 278.19M232.65 275.02L232.65 275.02M235.30 284.51L232.65 284.51M232.65 275.02L232.65 284.51M233.76 256.03L231.00 256.03M235.30 265.52L231.00 265.52M231.00 256.03L231.00 265.52M231.00 260.78L231.00 260.78M232.65 279.77L231.00 279.77M231.00 260.78L231.00 279.77M231.00 239.41L229.00 239.41M231.00 270.27L229.00 270.27M229.00 239.41L229.00 270.27M235.30 297.18L230.00 297.18M235.30 303.50L230.00 303.50M230.00 297.18L230.00 303.50M235.30 290.85L227.60 290.85M230.00 300.34L227.60 300.34M227.60 290.85L227.60 300.34M229.00 254.84L225.50 254.84M227.60 295.59L225.50 295.59M225.50 254.84L225.50 295.59M225.50 275.22L222.00 275.22M235.30 309.83L222.00 309.83M222.00 275.22L222.00 309.83M220.20 134.54L211.30 134.54M222.00 292.53L211.30 292.53M211.30 134.54L211.30 292.53" stroke="#555" stroke-width="0.9" fill="none"/>
<text x="390.60" y="18.30" font-size="12.2" fill="#111" stroke="#111" stroke-width="0.35" font-weight="bold">C</text>
<text x="425.20" y="16.20" font-size="10.5" fill="#222" stroke="#222" stroke-width="0.1" textLength="72.7" lengthAdjust="spacingAndGlyphs">Transcriptomics</text>
<text x="419.12" y="53.10" font-size="8.7" fill="#222" stroke="#222" stroke-width="0.1" transform="rotate(-90 419.12 53.10)">Ctrl1</text>
<text x="431.96" y="53.10" font-size="8.7" fill="#222" stroke="#222" stroke-width="0.1" transform="rotate(-90 431.96 53.10)">Ctrl2</text>
<text x="444.79" y="53.10" font-size="8.7" fill="#222" stroke="#222" stroke-width="0.1" transform="rotate(-90 444.79 53.10)">Ctrl3</text>
<text x="457.63" y="53.10" font-size="8.7" fill="#222" stroke="#222" stroke-width="0.1" transform="rotate(-90 457.63 53.10)">Ctrl4</text>
<text x="470.47" y="53.10" font-size="8.7" fill="#222" stroke="#222" stroke-width="0.1" transform="rotate(-90 470.47 53.10)">Ctrl5</text>
<text x="483.31" y="53.10" font-size="8.7" fill="#222" stroke="#222" stroke-width="0.1" transform="rotate(-90 483.31 53.10)">Ctrl6</text>
<text x="496.14" y="53.10" font-size="8.7" fill="#222" stroke="#222" stroke-width="0.1" textLength="15.8" lengthAdjust="spacingAndGlyphs" transform="rotate(-90 496.14 53.10)">Pat1</text>
<text x="508.98" y="53.10" font-size="8.7" fill="#222" stroke="#222" stroke-width="0.1" textLength="15.8" lengthAdjust="spacingAndGlyphs" transform="rotate(-90 508.98 53.10)">Pat2</text>
<rect x="409.30" y="56.88" width="13.14" height="1.91" fill="#eee8fb"/>
<rect x="422.14" y="56.88" width="13.14" height="1.91" fill="#beadf4"/>
<rect x="434.98" y="56.88" width="13.14" height="1.91" fill="#dfd6fa"/>
<rect x="447.81" y="56.88" width="13.14" height="1.91" fill="#d9cef8"/>
<rect x="460.65" y="56.88" width="13.14" height="1.91" fill="#f9f5f9"/>
<rect x="473.49" y="56.88" width="13.14" height="1.91" fill="#cfc4f7"/>
<rect x="486.32" y="56.88" width="13.14" height="1.91" fill="#ff8060"/>
<rect x="499.16" y="56.88" width="13.14" height="1.91" fill="#ff3018"/>
<rect x="409.30" y="58.54" width="13.14" height="1.91" fill="#eee9fb"/>
<rect x="422.14" y="58.54" width="13.14" height="1.91" fill="#c2b3f4"/>
<rect x="434.98" y="58.54" width="13.14" height="1.91" fill="#dcd3fa"/>
<rect x="447.81" y="58.54" width="13.14" height="1.91" fill="#e1d8fa"/>
<rect x="460.65" y="58.54" width="13.14" height="1.91" fill="#f8f4f8"/>
<rect x="473.49" y="58.54" width="13.14" height="1.91" fill="#aa97f2"/>
<rect x="486.32" y="58.54" width="13.14" height="1.91" fill="#ff7858"/>
<rect x="499.16" y="58.54" width="13.14" height="1.91" fill="#ff4020"/>
<rect x="409.30" y="60.20" width="13.14" height="1.91" fill="#ffe3d7"/>
<rect x="422.14" y="60.20" width="13.14" height="1.91" fill="#e9e1fa"/>
<rect x="434.98" y="60.20" width="13.14" height="1.91" fill="#ad9af2"/>
<rect x="447.81" y="60.20" width="13.14" height="1.91" fill="#ae97f3"/>
<rect x="460.65" y="60.20" width="13.14" height="1.91" fill="#cbbef6"/>
<rect x="473.49" y="60.20" width="13.14" height="1.91" fill="#b5a2f2"/>
<rect x="486.32" y="60.20" width="13.14" height="1.91" fill="#ff8060"/>
<rect x="499.16" y="60.20" width="13.14" height="1.91" fill="#ff3820"/>
<rect x="409.30" y="61.86" width="13.14" height="1.91" fill="#ffd5c4"/>
<rect x="422.14" y="61.86" width="13.14" height="1.91" fill="#eee8fb"/>
<rect x="434.98" y="61.86" width="13.14" height="1.91" fill="#d1c6f8"/>
<rect x="447.81" y="61.86" width="13.14" height="1.91" fill="#c8b9f7"/>
<rect x="460.65" y="61.86" width="13.14" height="1.91" fill="#d0c4f7"/>
<rect x="473.49" y="61.86" width="13.14" height="1.91" fill="#bdacf3"/>
<rect x="486.32" y="61.86" width="13.14" height="1.91" fill="#ff8a68"/>
<rect x="499.16" y="61.86" width="13.14" height="1.91" fill="#ff3018"/>
<rect x="409.30" y="63.51" width="13.14" height="1.91" fill="#ffdacb"/>
<rect x="422.14" y="63.51" width="13.14" height="1.91" fill="#e8e0fa"/>
<rect x="434.98" y="63.51" width="13.14" height="1.91" fill="#c4b7f6"/>
<rect x="447.81" y="63.51" width="13.14" height="1.91" fill="#ae97f3"/>
<rect x="460.65" y="63.51" width="13.14" height="1.91" fill="#d7ccf8"/>
<rect x="473.49" y="63.51" width="13.14" height="1.91" fill="#d7ccf8"/>
<rect x="486.32" y="63.51" width="13.14" height="1.91" fill="#ff8868"/>
<rect x="499.16" y="63.51" width="13.14" height="1.91" fill="#ff3820"/>
<rect x="409.30" y="65.17" width="13.14" height="1.91" fill="#f0e8fa"/>
<rect x="422.14" y="65.17" width="13.14" height="1.91" fill="#e8e1fb"/>
<rect x="434.98" y="65.17" width="13.14" height="1.91" fill="#d3c6f8"/>
<rect x="447.81" y="65.17" width="13.14" height="1.91" fill="#bbabf4"/>
<rect x="460.65" y="65.17" width="13.14" height="1.91" fill="#c0b2f5"/>
<rect x="473.49" y="65.17" width="13.14" height="1.91" fill="#d3c7f8"/>
<rect x="486.32" y="65.17" width="13.14" height="1.91" fill="#ff9070"/>
<rect x="499.16" y="65.17" width="13.14" height="1.91" fill="#ff4020"/>
<rect x="409.30" y="66.83" width="13.14" height="1.91" fill="#ede3f9"/>
<rect x="422.14" y="66.83" width="13.14" height="1.91" fill="#e6defa"/>
<rect x="434.98" y="66.83" width="13.14" height="1.91" fill="#c1aff5"/>
<rect x="447.81" y="66.83" width="13.14" height="1.91" fill="#b19ff3"/>
<rect x="460.65" y="66.83" width="13.14" height="1.91" fill="#a28df1"/>
<rect x="473.49" y="66.83" width="13.14" height="1.91" fill="#bca8f4"/>
<rect x="486.32" y="66.83" width="13.14" height="1.91" fill="#ff8060"/>
<rect x="499.16" y="66.83" width="13.14" height="1.91" fill="#ff3018"/>
<rect x="409.30" y="68.49" width="13.14" height="1.91" fill="#ede3f9"/>
<rect x="422.14" y="68.49" width="13.14" height="1.91" fill="#ece6fb"/>
<rect x="434.98" y="68.49" width="13.14" height="1.91" fill="#cec0f7"/>
<rect x="447.81" y="68.49" width="13.14" height="1.91" fill="#b2a0f3"/>
<rect x="460.65" y="68.49" width="13.14" height="1.91" fill="#cbc0f7"/>
<rect x="473.49" y="68.49" width="13.14" height="1.91" fill="#ccbdf7"/>
<rect x="486.32" y="68.49" width="13.14" height="1.91" fill="#ff7050"/>
<rect x="499.16" y="68.49" width="13.14" height="1.91" fill="#ff2010"/>
<rect x="409.30" y="70.14" width="13.14" height="1.91" fill="#f1e9fa"/>
<rect x="422.14" y="70.14" width="13.14" height="1.91" fill="#e3dbfa"/>
<rect x="434.98" y="70.14" width="13.14" height="1.91" fill="#cdbff7"/>
<rect x="447.81" y="70.14" width="13.14" height="1.91" fill="#b2a0f3"/>
<rect x="460.65" y="70.14" width="13.14" height="1.91" fill="#cabef7"/>
<rect x="473.49" y="70.14" width="13.14" height="1.91" fill="#c9b9f6"/>
<rect x="486.32" y="70.14" width="13.14" height="1.91" fill="#ffb098"/>
<rect x="499.16" y="70.14" width="13.14" height="1.91" fill="#ff2810"/>
<rect x="409.30" y="71.80" width="13.14" height="1.91" fill="#ded5fa"/>
<rect x="422.14" y="71.80" width="13.14" height="1.91" fill="#d8d0fa"/>
<rect x="434.98" y="71.80" width="13.14" height="1.91" fill="#c5b6f6"/>
<rect x="447.81" y="71.80" width="13.14" height="1.91" fill="#b8a3f3"/>
<rect x="460.65" y="71.80" width="13.14" height="1.91" fill="#c7b7f6"/>
<rect x="473.49" y="71.80" width="13.14" height="1.91" fill="#d3c6f7"/>
<rect x="486.32" y="71.80" width="13.14" height="1.91" fill="#ffc0a8"/>
<rect x="499.16" y="71.80" width="13.14" height="1.91" fill="#ff6050"/>
<rect x="409.30" y="73.46" width="13.14" height="1.91" fill="#e0d8fa"/>
<rect x="422.14" y="73.46" width="13.14" height="1.91" fill="#dad2fa"/>
<rect x="434.98" y="73.46" width="13.14" height="1.91" fill="#c8baf7"/>
<rect x="447.81" y="73.46" width="13.14" height="1.91" fill="#c5b4f5"/>
<rect x="460.65" y="73.46" width="13.14" height="1.91" fill="#d6cbf8"/>
<rect x="473.49" y="73.46" width="13.14" height="1.91" fill="#e0d6f9"/>
<rect x="486.32" y="73.46" width="13.14" height="1.91" fill="#ffb8a0"/>
<rect x="499.16" y="73.46" width="13.14" height="1.91" fill="#ff1000"/>
<rect x="409.30" y="75.12" width="13.14" height="1.91" fill="#e7e1fb"/>
<rect x="422.14" y="75.12" width="13.14" height="1.91" fill="#d7cffa"/>
<rect x="434.98" y="75.12" width="13.14" height="1.91" fill="#d7cdf9"/>
<rect x="447.81" y="75.12" width="13.14" height="1.91" fill="#d2c5f8"/>
<rect x="460.65" y="75.12" width="13.14" height="1.91" fill="#d4c7f8"/>
<rect x="473.49" y="75.12" width="13.14" height="1.91" fill="#d0c1f7"/>
<rect x="486.32" y="75.12" width="13.14" height="1.91" fill="#ff9070"/>
<rect x="499.16" y="75.12" width="13.14" height="1.91" fill="#ff8070"/>
<rect x="409.30" y="76.77" width="13.14" height="1.91" fill="#f1ebfb"/>
<rect x="422.14" y="76.77" width="13.14" height="1.91" fill="#f3effd"/>
<rect x="434.98" y="76.77" width="13.14" height="1.91" fill="#c2b0f5"/>
<rect x="447.81" y="76.77" width="13.14" height="1.91" fill="#d2c8f8"/>
<rect x="460.65" y="76.77" width="13.14" height="1.91" fill="#bbadf6"/>
<rect x="473.49" y="76.77" width="13.14" height="1.91" fill="#c5b6f5"/>
<rect x="486.32" y="76.77" width="13.14" height="1.91" fill="#ff8868"/>
<rect x="499.16" y="76.77" width="13.14" height="1.91" fill="#ff0800"/>
<rect x="409.30" y="78.43" width="13.14" height="1.91" fill="#e6dcf8"/>
<rect x="422.14" y="78.43" width="13.14" height="1.91" fill="#ebe6fb"/>
<rect x="434.98" y="78.43" width="13.14" height="1.91" fill="#c9b9f6"/>
<rect x="447.81" y="78.43" width="13.14" height="1.91" fill="#b3a2f3"/>
<rect x="460.65" y="78.43" width="13.14" height="1.91" fill="#ae9df4"/>
<rect x="473.49" y="78.43" width="13.14" height="1.91" fill="#aa95f0"/>
<rect x="486.32" y="78.43" width="13.14" height="1.91" fill="#ff8060"/>
<rect x="499.16" y="78.43" width="13.14" height="1.91" fill="#ff0000"/>
<rect x="409.30" y="80.09" width="13.14" height="1.91" fill="#ede6fa"/>
<rect x="422.14" y="80.09" width="13.14" height="1.91" fill="#f1edfc"/>
<rect x="434.98" y="80.09" width="13.14" height="1.91" fill="#c9baf6"/>
<rect x="447.81" y="80.09" width="13.14" height="1.91" fill="#baaaf4"/>
<rect x="460.65" y="80.09" width="13.14" height="1.91" fill="#a694f3"/>
<rect x="473.49" y="80.09" width="13.14" height="1.91" fill="#b4a1f2"/>
<rect x="486.32" y="80.09" width="13.14" height="1.91" fill="#ff9070"/>
<rect x="499.16" y="80.09" width="13.14" height="1.91" fill="#ff1000"/>
<rect x="409.30" y="81.75" width="13.14" height="1.91" fill="#fbf6f8"/>
<rect x="422.14" y="81.75" width="13.14" height="1.91" fill="#ddd2f9"/>
<rect x="434.98" y="81.75" width="13.14" height="1.91" fill="#d7cdf9"/>
<rect x="447.81" y="81.75" width="13.14" height="1.91" fill="#d9d1fa"/>
<rect x="460.65" y="81.75" width="13.14" height="1.91" fill="#7a5ded"/>
<rect x="473.49" y="81.75" width="13.14" height="1.91" fill="#e3dafa"/>
<rect x="486.32" y="81.75" width="13.14" height="1.91" fill="#ff8868"/>
<rect x="499.16" y="81.75" width="13.14" height="1.91" fill="#ff0800"/>
<rect x="409.30" y="83.40" width="13.14" height="1.91" fill="#f7eff3"/>
<rect x="422.14" y="83.40" width="13.14" height="1.91" fill="#d4c6f7"/>
<rect x="434.98" y="83.40" width="13.14" height="1.91" fill="#dcd4fa"/>
<rect x="447.81" y="83.40" width="13.14" height="1.91" fill="#cec5f9"/>
<rect x="460.65" y="83.40" width="13.14" height="1.91" fill="#7d61ed"/>
<rect x="473.49" y="83.40" width="13.14" height="1.91" fill="#ded4f9"/>
<rect x="486.32" y="83.40" width="13.14" height="1.91" fill="#ffb098"/>
<rect x="499.16" y="83.40" width="13.14" height="1.91" fill="#ff4030"/>
<rect x="409.30" y="85.06" width="13.14" height="1.91" fill="#f8f0f4"/>
<rect x="422.14" y="85.06" width="13.14" height="1.91" fill="#d7cbf8"/>
<rect x="434.98" y="85.06" width="13.14" height="1.91" fill="#d7cdf9"/>
<rect x="447.81" y="85.06" width="13.14" height="1.91" fill="#d1c8f9"/>
<rect x="460.65" y="85.06" width="13.14" height="1.91" fill="#a38ff3"/>
<rect x="473.49" y="85.06" width="13.14" height="1.91" fill="#e9e2fb"/>
<rect x="486.32" y="85.06" width="13.14" height="1.91" fill="#fff0e8"/>
<rect x="499.16" y="85.06" width="13.14" height="1.91" fill="#ff1000"/>
<rect x="409.30" y="86.72" width="13.14" height="1.91" fill="#ffd8c7"/>
<rect x="422.14" y="86.72" width="13.14" height="1.91" fill="#ccbef6"/>
<rect x="434.98" y="86.72" width="13.14" height="1.91" fill="#d6ccf8"/>
<rect x="447.81" y="86.72" width="13.14" height="1.91" fill="#ddd3f9"/>
<rect x="460.65" y="86.72" width="13.14" height="1.91" fill="#ded6fa"/>
<rect x="473.49" y="86.72" width="13.14" height="1.91" fill="#dacff9"/>
<rect x="486.32" y="86.72" width="13.14" height="1.91" fill="#ffc8b0"/>
<rect x="499.16" y="86.72" width="13.14" height="1.91" fill="#ff6050"/>
<rect x="409.30" y="88.38" width="13.14" height="1.91" fill="#ffdaca"/>
<rect x="422.14" y="88.38" width="13.14" height="1.91" fill="#b4a1f2"/>
<rect x="434.98" y="88.38" width="13.14" height="1.91" fill="#beaef4"/>
<rect x="447.81" y="88.38" width="13.14" height="1.91" fill="#d6caf8"/>
<rect x="460.65" y="88.38" width="13.14" height="1.91" fill="#d9cff9"/>
<rect x="473.49" y="88.38" width="13.14" height="1.91" fill="#cfc1f7"/>
<rect x="486.32" y="88.38" width="13.14" height="1.91" fill="#ffa890"/>
<rect x="499.16" y="88.38" width="13.14" height="1.91" fill="#ff2010"/>
<rect x="409.30" y="90.03" width="13.14" height="1.91" fill="#ffd7c5"/>
<rect x="422.14" y="90.03" width="13.14" height="1.91" fill="#b5a3f2"/>
<rect x="434.98" y="90.03" width="13.14" height="1.91" fill="#b09cf1"/>
<rect x="447.81" y="90.03" width="13.14" height="1.91" fill="#cbbcf7"/>
<rect x="460.65" y="90.03" width="13.14" height="1.91" fill="#d2c7f8"/>
<rect x="473.49" y="90.03" width="13.14" height="1.91" fill="#d8cdf9"/>
<rect x="486.32" y="90.03" width="13.14" height="1.91" fill="#ffb098"/>
<rect x="499.16" y="90.03" width="13.14" height="1.91" fill="#ff7060"/>
<rect x="409.30" y="91.69" width="13.14" height="1.91" fill="#ffe7da"/>
<rect x="422.14" y="91.69" width="13.14" height="1.91" fill="#dcd6fa"/>
<rect x="434.98" y="91.69" width="13.14" height="1.91" fill="#c4b2f5"/>
<rect x="447.81" y="91.69" width="13.14" height="1.91" fill="#c4b4f6"/>
<rect x="460.65" y="91.69" width="13.14" height="1.91" fill="#dad0f8"/>
<rect x="473.49" y="91.69" width="13.14" height="1.91" fill="#c9bbf7"/>
<rect x="486.32" y="91.69" width="13.14" height="1.91" fill="#ff9c80"/>
<rect x="499.16" y="91.69" width="13.14" height="1.91" fill="#ff2010"/>
<rect x="409.30" y="93.35" width="13.14" height="1.91" fill="#ffe6da"/>
<rect x="422.14" y="93.35" width="13.14" height="1.91" fill="#cec6f8"/>
<rect x="434.98" y="93.35" width="13.14" height="1.91" fill="#d7ccf8"/>
<rect x="447.81" y="93.35" width="13.14" height="1.91" fill="#a68df2"/>
<rect x="460.65" y="93.35" width="13.14" height="1.91" fill="#ad99f1"/>
<rect x="473.49" y="93.35" width="13.14" height="1.91" fill="#c5b7f6"/>
<rect x="486.32" y="93.35" width="13.14" height="1.91" fill="#ffb098"/>
<rect x="499.16" y="93.35" width="13.14" height="1.91" fill="#ff5040"/>
<rect x="409.30" y="95.01" width="13.14" height="1.24" fill="#ffe3d4"/>
<rect x="422.14" y="95.01" width="13.14" height="1.24" fill="#d1c9f8"/>
<rect x="434.98" y="95.01" width="13.14" height="1.24" fill="#d0c2f7"/>
<rect x="447.81" y="95.01" width="13.14" height="1.24" fill="#9577ef"/>
<rect x="460.65" y="95.01" width="13.14" height="1.24" fill="#bbaaf3"/>
<rect x="473.49" y="95.01" width="13.14" height="1.24" fill="#c5b7f6"/>
<rect x="486.32" y="95.01" width="13.14" height="1.24" fill="#ffa088"/>
<rect x="499.16" y="95.01" width="13.14" height="1.24" fill="#ff1808"/>
<rect x="409.30" y="96.00" width="13.14" height="1.91" fill="#e7e0fb"/>
<rect x="422.14" y="96.00" width="13.14" height="1.91" fill="#d3c5f7"/>
<rect x="434.98" y="96.00" width="13.14" height="1.91" fill="#ece7fb"/>
<rect x="447.81" y="96.00" width="13.14" height="1.91" fill="#c8bbf7"/>
<rect x="460.65" y="96.00" width="13.14" height="1.91" fill="#8f74f0"/>
<rect x="473.49" y="96.00" width="13.14" height="1.91" fill="#b7a5f2"/>
<rect x="486.32" y="96.00" width="13.14" height="1.91" fill="#ffa080"/>
<rect x="499.16" y="96.00" width="13.14" height="1.91" fill="#ff0800"/>
<rect x="409.30" y="97.66" width="13.14" height="1.91" fill="#e3dcfa"/>
<rect x="422.14" y="97.66" width="13.14" height="1.91" fill="#d5c8f7"/>
<rect x="434.98" y="97.66" width="13.14" height="1.91" fill="#f0ecfc"/>
<rect x="447.81" y="97.66" width="13.14" height="1.91" fill="#dad0f9"/>
<rect x="460.65" y="97.66" width="13.14" height="1.91" fill="#b19ef5"/>
<rect x="473.49" y="97.66" width="13.14" height="1.91" fill="#c4b5f5"/>
<rect x="486.32" y="97.66" width="13.14" height="1.91" fill="#ffd8c8"/>
<rect x="499.16" y="97.66" width="13.14" height="1.91" fill="#ff4030"/>
<rect x="409.30" y="99.31" width="13.14" height="1.91" fill="#dfd6fa"/>
<rect x="422.14" y="99.31" width="13.14" height="1.91" fill="#d0c2f7"/>
<rect x="434.98" y="99.31" width="13.14" height="1.91" fill="#f2eefc"/>
<rect x="447.81" y="99.31" width="13.14" height="1.91" fill="#c7b9f7"/>
<rect x="460.65" y="99.31" width="13.14" height="1.91" fill="#8669ef"/>
<rect x="473.49" y="99.31" width="13.14" height="1.91" fill="#b3a0f2"/>
<rect x="486.32" y="99.31" width="13.14" height="1.91" fill="#ffe8e0"/>
<rect x="499.16" y="99.31" width="13.14" height="1.91" fill="#ff5040"/>
<rect x="409.30" y="100.97" width="13.14" height="1.91" fill="#dad0f9"/>
<rect x="422.14" y="100.97" width="13.14" height="1.91" fill="#e6e0fb"/>
<rect x="434.98" y="100.97" width="13.14" height="1.91" fill="#d4c8f8"/>
<rect x="447.81" y="100.97" width="13.14" height="1.91" fill="#cec1f6"/>
<rect x="460.65" y="100.97" width="13.14" height="1.91" fill="#b6a5f4"/>
<rect x="473.49" y="100.97" width="13.14" height="1.91" fill="#ffd0bd"/>
<rect x="486.32" y="100.97" width="13.14" height="1.91" fill="#ffb098"/>
<rect x="499.16" y="100.97" width="13.14" height="1.91" fill="#ff2010"/>
<rect x="409.30" y="102.63" width="13.14" height="1.91" fill="#ccbff7"/>
<rect x="422.14" y="102.63" width="13.14" height="1.91" fill="#dad0f9"/>
<rect x="434.98" y="102.63" width="13.14" height="1.91" fill="#b8a4f3"/>
<rect x="447.81" y="102.63" width="13.14" height="1.91" fill="#c9bcf6"/>
<rect x="460.65" y="102.63" width="13.14" height="1.91" fill="#aa97f2"/>
<rect x="473.49" y="102.63" width="13.14" height="1.91" fill="#ffcab5"/>
<rect x="486.32" y="102.63" width="13.14" height="1.91" fill="#ffb8a0"/>
<rect x="499.16" y="102.63" width="13.14" height="1.91" fill="#ff1000"/>
<rect x="409.30" y="104.29" width="13.14" height="1.91" fill="#c5b6f6"/>
<rect x="422.14" y="104.29" width="13.14" height="1.91" fill="#ded5fa"/>
<rect x="434.98" y="104.29" width="13.14" height="1.91" fill="#cec0f7"/>
<rect x="447.81" y="104.29" width="13.14" height="1.91" fill="#b09cf1"/>
<rect x="460.65" y="104.29" width="13.14" height="1.91" fill="#b9a9f4"/>
<rect x="473.49" y="104.29" width="13.14" height="1.91" fill="#ffceb9"/>
<rect x="486.32" y="104.29" width="13.14" height="1.91" fill="#ffb098"/>
<rect x="499.16" y="104.29" width="13.14" height="1.91" fill="#ff5040"/>
<rect x="409.30" y="105.94" width="13.14" height="1.91" fill="#d5c8f7"/>
<rect x="422.14" y="105.94" width="13.14" height="1.91" fill="#e6ddfa"/>
<rect x="434.98" y="105.94" width="13.14" height="1.91" fill="#bdacf5"/>
<rect x="447.81" y="105.94" width="13.14" height="1.91" fill="#a490f1"/>
<rect x="460.65" y="105.94" width="13.14" height="1.91" fill="#ad96f3"/>
<rect x="473.49" y="105.94" width="13.14" height="1.91" fill="#f9f5fc"/>
<rect x="486.32" y="105.94" width="13.14" height="1.91" fill="#ffc0a8"/>
<rect x="499.16" y="105.94" width="13.14" height="1.91" fill="#ff2010"/>
<rect x="409.30" y="107.60" width="13.14" height="1.91" fill="#d3c5f7"/>
<rect x="422.14" y="107.60" width="13.14" height="1.91" fill="#e6defa"/>
<rect x="434.98" y="107.60" width="13.14" height="1.91" fill="#dfd7fa"/>
<rect x="447.81" y="107.60" width="13.14" height="1.91" fill="#b2a0f3"/>
<rect x="460.65" y="107.60" width="13.14" height="1.91" fill="#987cf0"/>
<rect x="473.49" y="107.60" width="13.14" height="1.91" fill="#f8f4fc"/>
<rect x="486.32" y="107.60" width="13.14" height="1.91" fill="#ff9070"/>
<rect x="499.16" y="107.60" width="13.14" height="1.91" fill="#ff2818"/>
<rect x="409.30" y="109.26" width="13.14" height="1.91" fill="#d9cdf8"/>
<rect x="422.14" y="109.26" width="13.14" height="1.91" fill="#eee8fb"/>
<rect x="434.98" y="109.26" width="13.14" height="1.91" fill="#e0d8fa"/>
<rect x="447.81" y="109.26" width="13.14" height="1.91" fill="#a793f1"/>
<rect x="460.65" y="109.26" width="13.14" height="1.91" fill="#a48bf1"/>
<rect x="473.49" y="109.26" width="13.14" height="1.91" fill="#f8f4fc"/>
<rect x="486.32" y="109.26" width="13.14" height="1.91" fill="#ff9070"/>
<rect x="499.16" y="109.26" width="13.14" height="1.91" fill="#ff2010"/>
<rect x="409.30" y="110.92" width="13.14" height="1.91" fill="#efeafc"/>
<rect x="422.14" y="110.92" width="13.14" height="1.91" fill="#f6f0fb"/>
<rect x="434.98" y="110.92" width="13.14" height="1.91" fill="#e1d6f8"/>
<rect x="447.81" y="110.92" width="13.14" height="1.91" fill="#ac95f3"/>
<rect x="460.65" y="110.92" width="13.14" height="1.91" fill="#aa92f2"/>
<rect x="473.49" y="110.92" width="13.14" height="1.91" fill="#ece8fc"/>
<rect x="486.32" y="110.92" width="13.14" height="1.91" fill="#ff9878"/>
<rect x="499.16" y="110.92" width="13.14" height="1.91" fill="#ff1808"/>
<rect x="409.30" y="112.57" width="13.14" height="1.91" fill="#f0ecfc"/>
<rect x="422.14" y="112.57" width="13.14" height="1.91" fill="#faf6fd"/>
<rect x="434.98" y="112.57" width="13.14" height="1.91" fill="#ebe4fb"/>
<rect x="447.81" y="112.57" width="13.14" height="1.91" fill="#c2b1f6"/>
<rect x="460.65" y="112.57" width="13.14" height="1.91" fill="#997df0"/>
<rect x="473.49" y="112.57" width="13.14" height="1.91" fill="#efecfc"/>
<rect x="486.32" y="112.57" width="13.14" height="1.91" fill="#ff9878"/>
<rect x="499.16" y="112.57" width="13.14" height="1.91" fill="#ff3018"/>
<rect x="409.30" y="114.23" width="13.14" height="1.91" fill="#efebfc"/>
<rect x="422.14" y="114.23" width="13.14" height="1.91" fill="#f6f1fb"/>
<rect x="434.98" y="114.23" width="13.14" height="1.91" fill="#e9e2fa"/>
<rect x="447.81" y="114.23" width="13.14" height="1.91" fill="#9376ef"/>
<rect x="460.65" y="114.23" width="13.14" height="1.91" fill="#a991f2"/>
<rect x="473.49" y="114.23" width="13.14" height="1.91" fill="#ece8fc"/>
<rect x="486.32" y="114.23" width="13.14" height="1.91" fill="#ff9070"/>
<rect x="499.16" y="114.23" width="13.14" height="1.91" fill="#ff2810"/>
<rect x="409.30" y="115.89" width="13.14" height="1.91" fill="#e3dafa"/>
<rect x="422.14" y="115.89" width="13.14" height="1.91" fill="#ffe1d1"/>
<rect x="434.98" y="115.89" width="13.14" height="1.91" fill="#d2c5f8"/>
<rect x="447.81" y="115.89" width="13.14" height="1.91" fill="#bcabf6"/>
<rect x="460.65" y="115.89" width="13.14" height="1.91" fill="#b4a1f2"/>
<rect x="473.49" y="115.89" width="13.14" height="1.91" fill="#f3f0fd"/>
<rect x="486.32" y="115.89" width="13.14" height="1.91" fill="#ff8060"/>
<rect x="499.16" y="115.89" width="13.14" height="1.91" fill="#ff3018"/>
<rect x="409.30" y="117.55" width="13.14" height="1.91" fill="#d3c6f7"/>
<rect x="422.14" y="117.55" width="13.14" height="1.91" fill="#ffdfcf"/>
<rect x="434.98" y="117.55" width="13.14" height="1.91" fill="#cec0f7"/>
<rect x="447.81" y="117.55" width="13.14" height="1.91" fill="#a088f2"/>
<rect x="460.65" y="117.55" width="13.14" height="1.91" fill="#beaef4"/>
<rect x="473.49" y="117.55" width="13.14" height="1.91" fill="#eee9fc"/>
<rect x="486.32" y="117.55" width="13.14" height="1.91" fill="#ff8868"/>
<rect x="499.16" y="117.55" width="13.14" height="1.91" fill="#ff2810"/>
<rect x="409.30" y="119.20" width="13.14" height="1.91" fill="#dbd0f9"/>
<rect x="422.14" y="119.20" width="13.14" height="1.91" fill="#ffe8dd"/>
<rect x="434.98" y="119.20" width="13.14" height="1.91" fill="#d6caf8"/>
<rect x="447.81" y="119.20" width="13.14" height="1.91" fill="#9c83f1"/>
<rect x="460.65" y="119.20" width="13.14" height="1.91" fill="#c7b9f5"/>
<rect x="473.49" y="119.20" width="13.14" height="1.91" fill="#f1eefc"/>
<rect x="486.32" y="119.20" width="13.14" height="1.91" fill="#ff8a68"/>
<rect x="499.16" y="119.20" width="13.14" height="1.91" fill="#ff2010"/>
<rect x="409.30" y="120.86" width="13.14" height="1.91" fill="#b6a1f3"/>
<rect x="422.14" y="120.86" width="13.14" height="1.91" fill="#ffd6c6"/>
<rect x="434.98" y="120.86" width="13.14" height="1.91" fill="#d2c5f7"/>
<rect x="447.81" y="120.86" width="13.14" height="1.91" fill="#b2a1f3"/>
<rect x="460.65" y="120.86" width="13.14" height="1.91" fill="#d5c8f7"/>
<rect x="473.49" y="120.86" width="13.14" height="1.91" fill="#d0c2f7"/>
<rect x="486.32" y="120.86" width="13.14" height="1.91" fill="#ffa080"/>
<rect x="499.16" y="120.86" width="13.14" height="1.91" fill="#ff3820"/>
<rect x="409.30" y="122.52" width="13.14" height="1.91" fill="#c8b8f6"/>
<rect x="422.14" y="122.52" width="13.14" height="1.91" fill="#ffd9ca"/>
<rect x="434.98" y="122.52" width="13.14" height="1.91" fill="#cebff6"/>
<rect x="447.81" y="122.52" width="13.14" height="1.91" fill="#b19ff3"/>
<rect x="460.65" y="122.52" width="13.14" height="1.91" fill="#d0c1f7"/>
<rect x="473.49" y="122.52" width="13.14" height="1.91" fill="#cebff6"/>
<rect x="486.32" y="122.52" width="13.14" height="1.91" fill="#ffb098"/>
<rect x="499.16" y="122.52" width="13.14" height="1.91" fill="#ff1000"/>
<rect x="409.30" y="124.18" width="13.14" height="1.91" fill="#cabbf6"/>
<rect x="422.14" y="124.18" width="13.14" height="1.91" fill="#ffd0bd"/>
<rect x="434.98" y="124.18" width="13.14" height="1.91" fill="#d3c5f7"/>
<rect x="447.81" y="124.18" width="13.14" height="1.91" fill="#cdc1f7"/>
<rect x="460.65" y="124.18" width="13.14" height="1.91" fill="#e4dbfa"/>
<rect x="473.49" y="124.18" width="13.14" height="1.91" fill="#dcd1f9"/>
<rect x="486.32" y="124.18" width="13.14" height="1.91" fill="#ffd0c0"/>
<rect x="499.16" y="124.18" width="13.14" height="1.91" fill="#ff0800"/>
<rect x="409.30" y="125.83" width="13.14" height="1.91" fill="#ccc1f7"/>
<rect x="422.14" y="125.83" width="13.14" height="1.91" fill="#f1ecfc"/>
<rect x="434.98" y="125.83" width="13.14" height="1.91" fill="#c2b2f4"/>
<rect x="447.81" y="125.83" width="13.14" height="1.91" fill="#876eef"/>
<rect x="460.65" y="125.83" width="13.14" height="1.91" fill="#b9a7f3"/>
<rect x="473.49" y="125.83" width="13.14" height="1.91" fill="#eae5fc"/>
<rect x="486.32" y="125.83" width="13.14" height="1.91" fill="#ffc8b0"/>
<rect x="499.16" y="125.83" width="13.14" height="1.91" fill="#ff5040"/>
<rect x="409.30" y="127.49" width="13.14" height="1.91" fill="#ad9af2"/>
<rect x="422.14" y="127.49" width="13.14" height="1.91" fill="#ebe5fb"/>
<rect x="434.98" y="127.49" width="13.14" height="1.91" fill="#ad99f1"/>
<rect x="447.81" y="127.49" width="13.14" height="1.91" fill="#6444eb"/>
<rect x="460.65" y="127.49" width="13.14" height="1.91" fill="#c7b8f5"/>
<rect x="473.49" y="127.49" width="13.14" height="1.91" fill="#d6cbf8"/>
<rect x="486.32" y="127.49" width="13.14" height="1.91" fill="#ffe0d0"/>
<rect x="499.16" y="127.49" width="13.14" height="1.91" fill="#ff6050"/>
<rect x="409.30" y="129.15" width="13.14" height="1.91" fill="#bbabf4"/>
<rect x="422.14" y="129.15" width="13.14" height="1.91" fill="#e2d8f9"/>
<rect x="434.98" y="129.15" width="13.14" height="1.91" fill="#b5a3f2"/>
<rect x="447.81" y="129.15" width="13.14" height="1.91" fill="#a794f4"/>
<rect x="460.65" y="129.15" width="13.14" height="1.91" fill="#c5b6f5"/>
<rect x="473.49" y="129.15" width="13.14" height="1.91" fill="#e1d9fa"/>
<rect x="486.32" y="129.15" width="13.14" height="1.91" fill="#ff8060"/>
<rect x="499.16" y="129.15" width="13.14" height="1.91" fill="#ff3018"/>
<rect x="409.30" y="130.81" width="13.14" height="1.91" fill="#cfc2f7"/>
<rect x="422.14" y="130.81" width="13.14" height="1.91" fill="#d7cdf9"/>
<rect x="434.98" y="130.81" width="13.14" height="1.91" fill="#ddd5fa"/>
<rect x="447.81" y="130.81" width="13.14" height="1.91" fill="#d5cbf8"/>
<rect x="460.65" y="130.81" width="13.14" height="1.91" fill="#e0d9fa"/>
<rect x="473.49" y="130.81" width="13.14" height="1.91" fill="#ffd4c5"/>
<rect x="486.32" y="130.81" width="13.14" height="1.91" fill="#ff9070"/>
<rect x="499.16" y="130.81" width="13.14" height="1.91" fill="#ff2818"/>
<rect x="409.30" y="132.46" width="13.14" height="1.91" fill="#cfc3f7"/>
<rect x="422.14" y="132.46" width="13.14" height="1.91" fill="#d3c8f8"/>
<rect x="434.98" y="132.46" width="13.14" height="1.91" fill="#e4ddfb"/>
<rect x="447.81" y="132.46" width="13.14" height="1.91" fill="#dad0f8"/>
<rect x="460.65" y="132.46" width="13.14" height="1.91" fill="#dbd2f9"/>
<rect x="473.49" y="132.46" width="13.14" height="1.91" fill="#ffcfbe"/>
<rect x="486.32" y="132.46" width="13.14" height="1.91" fill="#ff9878"/>
<rect x="499.16" y="132.46" width="13.14" height="1.91" fill="#ff3018"/>
<rect x="409.30" y="134.12" width="13.14" height="2.13" fill="#c6b8f5"/>
<rect x="422.14" y="134.12" width="13.14" height="2.13" fill="#d0c4f8"/>
<rect x="434.98" y="134.12" width="13.14" height="2.13" fill="#e4ddfb"/>
<rect x="447.81" y="134.12" width="13.14" height="2.13" fill="#ad98f1"/>
<rect x="460.65" y="134.12" width="13.14" height="2.13" fill="#e0d8fa"/>
<rect x="473.49" y="134.12" width="13.14" height="2.13" fill="#ffd4c5"/>
<rect x="486.32" y="134.12" width="13.14" height="2.13" fill="#ff8868"/>
<rect x="499.16" y="134.12" width="13.14" height="2.13" fill="#ff2810"/>
<rect x="409.30" y="136.00" width="13.14" height="1.91" fill="#d9cff9"/>
<rect x="422.14" y="136.00" width="13.14" height="1.91" fill="#dbd1f9"/>
<rect x="434.98" y="136.00" width="13.14" height="1.91" fill="#c4b7f6"/>
<rect x="447.81" y="136.00" width="13.14" height="1.91" fill="#bcaaf5"/>
<rect x="460.65" y="136.00" width="13.14" height="1.91" fill="#ede8fb"/>
<rect x="473.49" y="136.00" width="13.14" height="1.91" fill="#ffd7c7"/>
<rect x="486.32" y="136.00" width="13.14" height="1.91" fill="#ff9070"/>
<rect x="499.16" y="136.00" width="13.14" height="1.91" fill="#ff2818"/>
<rect x="409.30" y="137.66" width="13.14" height="1.91" fill="#e6dffb"/>
<rect x="422.14" y="137.66" width="13.14" height="1.91" fill="#e6e0fb"/>
<rect x="434.98" y="137.66" width="13.14" height="1.91" fill="#ac99f2"/>
<rect x="447.81" y="137.66" width="13.14" height="1.91" fill="#a78ef2"/>
<rect x="460.65" y="137.66" width="13.14" height="1.91" fill="#f3f0fd"/>
<rect x="473.49" y="137.66" width="13.14" height="1.91" fill="#ffcbb6"/>
<rect x="486.32" y="137.66" width="13.14" height="1.91" fill="#ffb098"/>
<rect x="499.16" y="137.66" width="13.14" height="1.91" fill="#ff4030"/>
<rect x="409.30" y="139.31" width="13.14" height="1.91" fill="#d9cff9"/>
<rect x="422.14" y="139.31" width="13.14" height="1.91" fill="#e6e0fb"/>
<rect x="434.98" y="139.31" width="13.14" height="1.91" fill="#a692f1"/>
<rect x="447.81" y="139.31" width="13.14" height="1.91" fill="#bba8f5"/>
<rect x="460.65" y="139.31" width="13.14" height="1.91" fill="#ece7fb"/>
<rect x="473.49" y="139.31" width="13.14" height="1.91" fill="#ffd8c7"/>
<rect x="486.32" y="139.31" width="13.14" height="1.91" fill="#ffc0a8"/>
<rect x="499.16" y="139.31" width="13.14" height="1.91" fill="#ff0800"/>
<rect x="409.30" y="140.97" width="13.14" height="1.91" fill="#b9a9f4"/>
<rect x="422.14" y="140.97" width="13.14" height="1.91" fill="#c6b8f7"/>
<rect x="434.98" y="140.97" width="13.14" height="1.91" fill="#f3f0fd"/>
<rect x="447.81" y="140.97" width="13.14" height="1.91" fill="#cbc0f7"/>
<rect x="460.65" y="140.97" width="13.14" height="1.91" fill="#e9e1fa"/>
<rect x="473.49" y="140.97" width="13.14" height="1.91" fill="#ede6fb"/>
<rect x="486.32" y="140.97" width="13.14" height="1.91" fill="#ffc8b0"/>
<rect x="499.16" y="140.97" width="13.14" height="1.91" fill="#ff2010"/>
<rect x="409.30" y="142.63" width="13.14" height="1.91" fill="#cfc4f8"/>
<rect x="422.14" y="142.63" width="13.14" height="1.91" fill="#e2dbfb"/>
<rect x="434.98" y="142.63" width="13.14" height="1.91" fill="#f4f2fd"/>
<rect x="447.81" y="142.63" width="13.14" height="1.91" fill="#c8bcf7"/>
<rect x="460.65" y="142.63" width="13.14" height="1.91" fill="#ede7fb"/>
<rect x="473.49" y="142.63" width="13.14" height="1.91" fill="#e7dffa"/>
<rect x="486.32" y="142.63" width="13.14" height="1.91" fill="#ffb8a0"/>
<rect x="499.16" y="142.63" width="13.14" height="1.91" fill="#ff5038"/>
<rect x="409.30" y="144.29" width="13.14" height="1.91" fill="#bcadf5"/>
<rect x="422.14" y="144.29" width="13.14" height="1.91" fill="#dcd3fa"/>
<rect x="434.98" y="144.29" width="13.14" height="1.91" fill="#f2effc"/>
<rect x="447.81" y="144.29" width="13.14" height="1.91" fill="#d1c7f8"/>
<rect x="460.65" y="144.29" width="13.14" height="1.91" fill="#ede7fb"/>
<rect x="473.49" y="144.29" width="13.14" height="1.91" fill="#f0ebfc"/>
<rect x="486.32" y="144.29" width="13.14" height="1.91" fill="#ff2010"/>
<rect x="499.16" y="144.29" width="13.14" height="1.91" fill="#ffe0d0"/>
<rect x="409.30" y="145.94" width="13.14" height="1.91" fill="#e6ddf9"/>
<rect x="422.14" y="145.94" width="13.14" height="1.91" fill="#a892f4"/>
<rect x="434.98" y="145.94" width="13.14" height="1.91" fill="#ffdecd"/>
<rect x="447.81" y="145.94" width="13.14" height="1.91" fill="#c0b0f6"/>
<rect x="460.65" y="145.94" width="13.14" height="1.91" fill="#fff2ec"/>
<rect x="473.49" y="145.94" width="13.14" height="1.91" fill="#9b87f1"/>
<rect x="486.32" y="145.94" width="13.14" height="1.91" fill="#ff3828"/>
<rect x="499.16" y="145.94" width="13.14" height="1.91" fill="#ffc8b8"/>
<rect x="409.30" y="147.60" width="13.14" height="1.91" fill="#e9e1fa"/>
<rect x="422.14" y="147.60" width="13.14" height="1.91" fill="#8a6ef0"/>
<rect x="434.98" y="147.60" width="13.14" height="1.91" fill="#ffe3d4"/>
<rect x="447.81" y="147.60" width="13.14" height="1.91" fill="#d1c5f8"/>
<rect x="460.65" y="147.60" width="13.14" height="1.91" fill="#ffefe6"/>
<rect x="473.49" y="147.60" width="13.14" height="1.91" fill="#9b86f1"/>
<rect x="486.32" y="147.60" width="13.14" height="1.91" fill="#ff1808"/>
<rect x="499.16" y="147.60" width="13.14" height="1.91" fill="#ffd0c0"/>
<rect x="409.30" y="149.26" width="13.14" height="1.91" fill="#e4dbf9"/>
<rect x="422.14" y="149.26" width="13.14" height="1.91" fill="#947bf1"/>
<rect x="434.98" y="149.26" width="13.14" height="1.91" fill="#ffdfce"/>
<rect x="447.81" y="149.26" width="13.14" height="1.91" fill="#d5caf9"/>
<rect x="460.65" y="149.26" width="13.14" height="1.91" fill="#fff2eb"/>
<rect x="473.49" y="149.26" width="13.14" height="1.91" fill="#c9bef7"/>
<rect x="486.32" y="149.26" width="13.14" height="1.91" fill="#ff4030"/>
<rect x="499.16" y="149.26" width="13.14" height="1.91" fill="#ffa890"/>
<rect x="409.30" y="150.92" width="13.14" height="1.91" fill="#e1dafb"/>
<rect x="422.14" y="150.92" width="13.14" height="1.91" fill="#d7caf8"/>
<rect x="434.98" y="150.92" width="13.14" height="1.91" fill="#d6caf8"/>
<rect x="447.81" y="150.92" width="13.14" height="1.91" fill="#d9cef9"/>
<rect x="460.65" y="150.92" width="13.14" height="1.91" fill="#d7ccf8"/>
<rect x="473.49" y="150.92" width="13.14" height="1.91" fill="#c3b1f5"/>
<rect x="486.32" y="150.92" width="13.14" height="1.91" fill="#ff2818"/>
<rect x="499.16" y="150.92" width="13.14" height="1.91" fill="#ff9070"/>
<rect x="409.30" y="152.57" width="13.14" height="1.91" fill="#c6b7f7"/>
<rect x="422.14" y="152.57" width="13.14" height="1.91" fill="#d9cdf8"/>
<rect x="434.98" y="152.57" width="13.14" height="1.91" fill="#cabbf6"/>
<rect x="447.81" y="152.57" width="13.14" height="1.91" fill="#c9b9f6"/>
<rect x="460.65" y="152.57" width="13.14" height="1.91" fill="#bba9f3"/>
<rect x="473.49" y="152.57" width="13.14" height="1.91" fill="#cdbff7"/>
<rect x="486.32" y="152.57" width="13.14" height="1.91" fill="#ff3828"/>
<rect x="499.16" y="152.57" width="13.14" height="1.91" fill="#ff8068"/>
<rect x="409.30" y="154.23" width="13.14" height="1.91" fill="#d7cdf9"/>
<rect x="422.14" y="154.23" width="13.14" height="1.91" fill="#cebff6"/>
<rect x="434.98" y="154.23" width="13.14" height="1.91" fill="#b9a5f4"/>
<rect x="447.81" y="154.23" width="13.14" height="1.91" fill="#c7b7f6"/>
<rect x="460.65" y="154.23" width="13.14" height="1.91" fill="#cbbdf6"/>
<rect x="473.49" y="154.23" width="13.14" height="1.91" fill="#baa5f4"/>
<rect x="486.32" y="154.23" width="13.14" height="1.91" fill="#ff2010"/>
<rect x="499.16" y="154.23" width="13.14" height="1.91" fill="#ff9878"/>
<rect x="409.30" y="155.89" width="13.14" height="1.91" fill="#b4a0f4"/>
<rect x="422.14" y="155.89" width="13.14" height="1.91" fill="#ffe1d6"/>
<rect x="434.98" y="155.89" width="13.14" height="1.91" fill="#d6ccf9"/>
<rect x="447.81" y="155.89" width="13.14" height="1.91" fill="#f1edfc"/>
<rect x="460.65" y="155.89" width="13.14" height="1.91" fill="#cbbcf6"/>
<rect x="473.49" y="155.89" width="13.14" height="1.91" fill="#ede7fb"/>
<rect x="486.32" y="155.89" width="13.14" height="1.91" fill="#ff0800"/>
<rect x="499.16" y="155.89" width="13.14" height="1.91" fill="#ffc0a8"/>
<rect x="409.30" y="157.55" width="13.14" height="1.91" fill="#c2b1f6"/>
<rect x="422.14" y="157.55" width="13.14" height="1.91" fill="#ffd7c9"/>
<rect x="434.98" y="157.55" width="13.14" height="1.91" fill="#dcd2fa"/>
<rect x="447.81" y="157.55" width="13.14" height="1.91" fill="#f1edfc"/>
<rect x="460.65" y="157.55" width="13.14" height="1.91" fill="#d7cbf8"/>
<rect x="473.49" y="157.55" width="13.14" height="1.91" fill="#efe9fb"/>
<rect x="486.32" y="157.55" width="13.14" height="1.91" fill="#ff3018"/>
<rect x="499.16" y="157.55" width="13.14" height="1.91" fill="#ff9070"/>
<rect x="409.30" y="159.20" width="13.14" height="1.91" fill="#bba8f5"/>
<rect x="422.14" y="159.20" width="13.14" height="1.91" fill="#ffd0c0"/>
<rect x="434.98" y="159.20" width="13.14" height="1.91" fill="#d2c6f8"/>
<rect x="447.81" y="159.20" width="13.14" height="1.91" fill="#efeafc"/>
<rect x="460.65" y="159.20" width="13.14" height="1.91" fill="#c6b5f6"/>
<rect x="473.49" y="159.20" width="13.14" height="1.91" fill="#e6defa"/>
<rect x="486.32" y="159.20" width="13.14" height="1.91" fill="#ff2010"/>
<rect x="499.16" y="159.20" width="13.14" height="1.91" fill="#ff8060"/>
<rect x="409.30" y="160.86" width="13.14" height="1.91" fill="#dfd6fa"/>
<rect x="422.14" y="160.86" width="13.14" height="1.91" fill="#f0ecfc"/>
<rect x="434.98" y="160.86" width="13.14" height="1.91" fill="#f0eafb"/>
<rect x="447.81" y="160.86" width="13.14" height="1.91" fill="#8c6ff1"/>
<rect x="460.65" y="160.86" width="13.14" height="1.91" fill="#cebff6"/>
<rect x="473.49" y="160.86" width="13.14" height="1.91" fill="#7a5ded"/>
<rect x="486.32" y="160.86" width="13.14" height="1.91" fill="#ff5038"/>
<rect x="499.16" y="160.86" width="13.14" height="1.91" fill="#ffc0b0"/>
<rect x="409.30" y="162.52" width="13.14" height="1.91" fill="#ded5fa"/>
<rect x="422.14" y="162.52" width="13.14" height="1.91" fill="#efeafc"/>
<rect x="434.98" y="162.52" width="13.14" height="1.91" fill="#f5f1fc"/>
<rect x="447.81" y="162.52" width="13.14" height="1.91" fill="#805ff0"/>
<rect x="460.65" y="162.52" width="13.14" height="1.91" fill="#d6c9f8"/>
<rect x="473.49" y="162.52" width="13.14" height="1.91" fill="#b7a8f5"/>
<rect x="486.32" y="162.52" width="13.14" height="1.91" fill="#ff6048"/>
<rect x="499.16" y="162.52" width="13.14" height="1.91" fill="#ffa088"/>
<rect x="409.30" y="164.18" width="13.14" height="1.91" fill="#e0d8fa"/>
<rect x="422.14" y="164.18" width="13.14" height="1.91" fill="#ede8fb"/>
<rect x="434.98" y="164.18" width="13.14" height="1.91" fill="#f2edfb"/>
<rect x="447.81" y="164.18" width="13.14" height="1.91" fill="#6640ed"/>
<rect x="460.65" y="164.18" width="13.14" height="1.91" fill="#d6c9f8"/>
<rect x="473.49" y="164.18" width="13.14" height="1.91" fill="#7557ec"/>
<rect x="486.32" y="164.18" width="13.14" height="1.91" fill="#ff8068"/>
<rect x="499.16" y="164.18" width="13.14" height="1.91" fill="#ff3020"/>
<rect x="409.30" y="165.83" width="13.14" height="1.91" fill="#ffd1bf"/>
<rect x="422.14" y="165.83" width="13.14" height="1.91" fill="#e3dcfb"/>
<rect x="434.98" y="165.83" width="13.14" height="1.91" fill="#e1d8fa"/>
<rect x="447.81" y="165.83" width="13.14" height="1.91" fill="#836df2"/>
<rect x="460.65" y="165.83" width="13.14" height="1.91" fill="#cabaf6"/>
<rect x="473.49" y="165.83" width="13.14" height="1.91" fill="#cbbef6"/>
<rect x="486.32" y="165.83" width="13.14" height="1.91" fill="#ffb098"/>
<rect x="499.16" y="165.83" width="13.14" height="1.91" fill="#ff2818"/>
<rect x="409.30" y="167.49" width="13.14" height="1.91" fill="#ffd3c1"/>
<rect x="422.14" y="167.49" width="13.14" height="1.91" fill="#dbd1f9"/>
<rect x="434.98" y="167.49" width="13.14" height="1.91" fill="#d1c3f7"/>
<rect x="447.81" y="167.49" width="13.14" height="1.91" fill="#4b2bed"/>
<rect x="460.65" y="167.49" width="13.14" height="1.91" fill="#c3b1f5"/>
<rect x="473.49" y="167.49" width="13.14" height="1.91" fill="#ccc0f6"/>
<rect x="486.32" y="167.49" width="13.14" height="1.91" fill="#ff8060"/>
<rect x="499.16" y="167.49" width="13.14" height="1.91" fill="#ff5040"/>
<rect x="409.30" y="169.15" width="13.14" height="1.91" fill="#ffcfbb"/>
<rect x="422.14" y="169.15" width="13.14" height="1.91" fill="#ddd4fa"/>
<rect x="434.98" y="169.15" width="13.14" height="1.91" fill="#d4c6f7"/>
<rect x="447.81" y="169.15" width="13.14" height="1.91" fill="#4e30ed"/>
<rect x="460.65" y="169.15" width="13.14" height="1.91" fill="#d1c4f8"/>
<rect x="473.49" y="169.15" width="13.14" height="1.91" fill="#b19ef1"/>
<rect x="486.32" y="169.15" width="13.14" height="1.91" fill="#ff9070"/>
<rect x="499.16" y="169.15" width="13.14" height="1.91" fill="#ff4028"/>
<rect x="409.30" y="170.81" width="13.14" height="1.91" fill="#ffeadf"/>
<rect x="422.14" y="170.81" width="13.14" height="1.91" fill="#ffede4"/>
<rect x="434.98" y="170.81" width="13.14" height="1.91" fill="#ded6fa"/>
<rect x="447.81" y="170.81" width="13.14" height="1.91" fill="#9482f4"/>
<rect x="460.65" y="170.81" width="13.14" height="1.91" fill="#d5c8f8"/>
<rect x="473.49" y="170.81" width="13.14" height="1.91" fill="#c6b8f7"/>
<rect x="486.32" y="170.81" width="13.14" height="1.91" fill="#ff8870"/>
<rect x="499.16" y="170.81" width="13.14" height="1.91" fill="#ff3020"/>
<rect x="409.30" y="172.46" width="13.14" height="1.91" fill="#ffe2d3"/>
<rect x="422.14" y="172.46" width="13.14" height="1.91" fill="#ffe8dd"/>
<rect x="434.98" y="172.46" width="13.14" height="1.91" fill="#ddd4f9"/>
<rect x="447.81" y="172.46" width="13.14" height="1.91" fill="#593eee"/>
<rect x="460.65" y="172.46" width="13.14" height="1.91" fill="#d5c9f8"/>
<rect x="473.49" y="172.46" width="13.14" height="1.91" fill="#ccbff7"/>
<rect x="486.32" y="172.46" width="13.14" height="1.91" fill="#ff9878"/>
<rect x="499.16" y="172.46" width="13.14" height="1.91" fill="#ff5040"/>
<rect x="409.30" y="174.12" width="13.14" height="2.13" fill="#ffeae0"/>
<rect x="422.14" y="174.12" width="13.14" height="2.13" fill="#ffeee6"/>
<rect x="434.98" y="174.12" width="13.14" height="2.13" fill="#dfd7fa"/>
<rect x="447.81" y="174.12" width="13.14" height="2.13" fill="#9381f4"/>
<rect x="460.65" y="174.12" width="13.14" height="2.13" fill="#dbd0f9"/>
<rect x="473.49" y="174.12" width="13.14" height="2.13" fill="#e4ddfb"/>
<rect x="486.32" y="174.12" width="13.14" height="2.13" fill="#ff9070"/>
<rect x="499.16" y="174.12" width="13.14" height="2.13" fill="#ff3828"/>
<rect x="409.30" y="176.00" width="13.14" height="1.91" fill="#f4f1fd"/>
<rect x="422.14" y="176.00" width="13.14" height="1.91" fill="#ffe9dd"/>
<rect x="434.98" y="176.00" width="13.14" height="1.91" fill="#e1d9fa"/>
<rect x="447.81" y="176.00" width="13.14" height="1.91" fill="#4535f0"/>
<rect x="460.65" y="176.00" width="13.14" height="1.91" fill="#cabef7"/>
<rect x="473.49" y="176.00" width="13.14" height="1.91" fill="#ebe4fb"/>
<rect x="486.32" y="176.00" width="13.14" height="1.91" fill="#ff5038"/>
<rect x="499.16" y="176.00" width="13.14" height="1.91" fill="#ff9070"/>
<rect x="409.30" y="177.66" width="13.14" height="1.91" fill="#f0edfc"/>
<rect x="422.14" y="177.66" width="13.14" height="1.91" fill="#ffeee4"/>
<rect x="434.98" y="177.66" width="13.14" height="1.91" fill="#d9cff9"/>
<rect x="447.81" y="177.66" width="13.14" height="1.91" fill="#6458f3"/>
<rect x="460.65" y="177.66" width="13.14" height="1.91" fill="#a490f1"/>
<rect x="473.49" y="177.66" width="13.14" height="1.91" fill="#e2d8f9"/>
<rect x="486.32" y="177.66" width="13.14" height="1.91" fill="#ff9070"/>
<rect x="499.16" y="177.66" width="13.14" height="1.91" fill="#ff8068"/>
<rect x="409.30" y="179.31" width="13.14" height="1.91" fill="#f3effd"/>
<rect x="422.14" y="179.31" width="13.14" height="1.91" fill="#ffe7da"/>
<rect x="434.98" y="179.31" width="13.14" height="1.91" fill="#dcd3f9"/>
<rect x="447.81" y="179.31" width="13.14" height="1.91" fill="#6154f3"/>
<rect x="460.65" y="179.31" width="13.14" height="1.91" fill="#ccc1f7"/>
<rect x="473.49" y="179.31" width="13.14" height="1.91" fill="#efeafc"/>
<rect x="486.32" y="179.31" width="13.14" height="1.91" fill="#ff6048"/>
<rect x="499.16" y="179.31" width="13.14" height="1.91" fill="#ffa088"/>
<rect x="409.30" y="180.97" width="13.14" height="1.91" fill="#ffdaca"/>
<rect x="422.14" y="180.97" width="13.14" height="1.91" fill="#dad1f9"/>
<rect x="434.98" y="180.97" width="13.14" height="1.91" fill="#ccbef7"/>
<rect x="447.81" y="180.97" width="13.14" height="1.91" fill="#7252ee"/>
<rect x="460.65" y="180.97" width="13.14" height="1.91" fill="#d3c8f8"/>
<rect x="473.49" y="180.97" width="13.14" height="1.91" fill="#e3dbfa"/>
<rect x="486.32" y="180.97" width="13.14" height="1.91" fill="#ff5038"/>
<rect x="499.16" y="180.97" width="13.14" height="1.91" fill="#ff7058"/>
<rect x="409.30" y="182.63" width="13.14" height="1.91" fill="#ffd4c2"/>
<rect x="422.14" y="182.63" width="13.14" height="1.91" fill="#d6cbf8"/>
<rect x="434.98" y="182.63" width="13.14" height="1.91" fill="#bca9f4"/>
<rect x="447.81" y="182.63" width="13.14" height="1.91" fill="#8c72f1"/>
<rect x="460.65" y="182.63" width="13.14" height="1.91" fill="#d6cbf8"/>
<rect x="473.49" y="182.63" width="13.14" height="1.91" fill="#ddd5fa"/>
<rect x="486.32" y="182.63" width="13.14" height="1.91" fill="#ff6850"/>
<rect x="499.16" y="182.63" width="13.14" height="1.91" fill="#ff8068"/>
<rect x="409.30" y="184.29" width="13.14" height="1.91" fill="#ffe9e0"/>
<rect x="422.14" y="184.29" width="13.14" height="1.91" fill="#e5defb"/>
<rect x="434.98" y="184.29" width="13.14" height="1.91" fill="#d1c4f8"/>
<rect x="447.81" y="184.29" width="13.14" height="1.91" fill="#a48ff4"/>
<rect x="460.65" y="184.29" width="13.14" height="1.91" fill="#ebe6fc"/>
<rect x="473.49" y="184.29" width="13.14" height="1.91" fill="#e7e1fb"/>
<rect x="486.32" y="184.29" width="13.14" height="1.91" fill="#ff7058"/>
<rect x="499.16" y="184.29" width="13.14" height="1.91" fill="#ff8870"/>
<rect x="409.30" y="185.94" width="13.14" height="1.91" fill="#dbd2f9"/>
<rect x="422.14" y="185.94" width="13.14" height="1.91" fill="#e6defa"/>
<rect x="434.98" y="185.94" width="13.14" height="1.91" fill="#d4c7f7"/>
<rect x="447.81" y="185.94" width="13.14" height="1.91" fill="#9276f0"/>
<rect x="460.65" y="185.94" width="13.14" height="1.91" fill="#b8a7f6"/>
<rect x="473.49" y="185.94" width="13.14" height="1.91" fill="#977aef"/>
<rect x="486.32" y="185.94" width="13.14" height="1.91" fill="#ff2010"/>
<rect x="499.16" y="185.94" width="13.14" height="1.91" fill="#ffc0a8"/>
<rect x="409.30" y="187.60" width="13.14" height="1.91" fill="#d7ccf8"/>
<rect x="422.14" y="187.60" width="13.14" height="1.91" fill="#dacff8"/>
<rect x="434.98" y="187.60" width="13.14" height="1.91" fill="#d8cdf8"/>
<rect x="447.81" y="187.60" width="13.14" height="1.91" fill="#a088f2"/>
<rect x="460.65" y="187.60" width="13.14" height="1.91" fill="#7857ed"/>
<rect x="473.49" y="187.60" width="13.14" height="1.91" fill="#9e83f0"/>
<rect x="486.32" y="187.60" width="13.14" height="1.91" fill="#ff3020"/>
<rect x="499.16" y="187.60" width="13.14" height="1.91" fill="#ff8870"/>
<rect x="409.30" y="189.26" width="13.14" height="1.91" fill="#e3dbfa"/>
<rect x="422.14" y="189.26" width="13.14" height="1.91" fill="#dfd5f9"/>
<rect x="434.98" y="189.26" width="13.14" height="1.91" fill="#e4dcfa"/>
<rect x="447.81" y="189.26" width="13.14" height="1.91" fill="#bba9f6"/>
<rect x="460.65" y="189.26" width="13.14" height="1.91" fill="#8c70f0"/>
<rect x="473.49" y="189.26" width="13.14" height="1.91" fill="#b7a3f4"/>
<rect x="486.32" y="189.26" width="13.14" height="1.91" fill="#ff5038"/>
<rect x="499.16" y="189.26" width="13.14" height="1.91" fill="#ff9878"/>
<rect x="409.30" y="190.92" width="13.14" height="1.91" fill="#e8e1fa"/>
<rect x="422.14" y="190.92" width="13.14" height="1.91" fill="#c9b9f6"/>
<rect x="434.98" y="190.92" width="13.14" height="1.91" fill="#eee9fc"/>
<rect x="447.81" y="190.92" width="13.14" height="1.91" fill="#a18bf3"/>
<rect x="460.65" y="190.92" width="13.14" height="1.91" fill="#ac9bf3"/>
<rect x="473.49" y="190.92" width="13.14" height="1.91" fill="#bdacf5"/>
<rect x="486.32" y="190.92" width="13.14" height="1.91" fill="#ff2818"/>
<rect x="499.16" y="190.92" width="13.14" height="1.91" fill="#ffa088"/>
<rect x="409.30" y="192.57" width="13.14" height="1.91" fill="#e1d7f8"/>
<rect x="422.14" y="192.57" width="13.14" height="1.91" fill="#bdaaf4"/>
<rect x="434.98" y="192.57" width="13.14" height="1.91" fill="#ebe5fb"/>
<rect x="447.81" y="192.57" width="13.14" height="1.91" fill="#7655ed"/>
<rect x="460.65" y="192.57" width="13.14" height="1.91" fill="#a592f2"/>
<rect x="473.49" y="192.57" width="13.14" height="1.91" fill="#c4b5f6"/>
<rect x="486.32" y="192.57" width="13.14" height="1.91" fill="#ff3020"/>
<rect x="499.16" y="192.57" width="13.14" height="1.91" fill="#ffc8b8"/>
<rect x="409.30" y="194.23" width="13.14" height="1.91" fill="#e8e0fa"/>
<rect x="422.14" y="194.23" width="13.14" height="1.91" fill="#d1c4f7"/>
<rect x="434.98" y="194.23" width="13.14" height="1.91" fill="#f0ecfc"/>
<rect x="447.81" y="194.23" width="13.14" height="1.91" fill="#a18af3"/>
<rect x="460.65" y="194.23" width="13.14" height="1.91" fill="#c5b9f7"/>
<rect x="473.49" y="194.23" width="13.14" height="1.91" fill="#e3dcfb"/>
<rect x="486.32" y="194.23" width="13.14" height="1.91" fill="#ff8068"/>
<rect x="499.16" y="194.23" width="13.14" height="1.91" fill="#ff4030"/>
<rect x="409.30" y="195.89" width="13.14" height="1.91" fill="#ffe3d4"/>
<rect x="422.14" y="195.89" width="13.14" height="1.91" fill="#9e84f1"/>
<rect x="434.98" y="195.89" width="13.14" height="1.91" fill="#b6a5f4"/>
<rect x="447.81" y="195.89" width="13.14" height="1.91" fill="#e8e0fa"/>
<rect x="460.65" y="195.89" width="13.14" height="1.91" fill="#ffe2d2"/>
<rect x="473.49" y="195.89" width="13.14" height="1.91" fill="#a68fef"/>
<rect x="486.32" y="195.89" width="13.14" height="1.91" fill="#ff6048"/>
<rect x="499.16" y="195.89" width="13.14" height="1.91" fill="#ff3020"/>
<rect x="409.30" y="197.55" width="13.14" height="1.91" fill="#ffdfcf"/>
<rect x="422.14" y="197.55" width="13.14" height="1.91" fill="#b9a5f4"/>
<rect x="434.98" y="197.55" width="13.14" height="1.91" fill="#bbabf4"/>
<rect x="447.81" y="197.55" width="13.14" height="1.91" fill="#ebe4fb"/>
<rect x="460.65" y="197.55" width="13.14" height="1.91" fill="#ffeee6"/>
<rect x="473.49" y="197.55" width="13.14" height="1.91" fill="#d1c6f7"/>
<rect x="486.32" y="197.55" width="13.14" height="1.91" fill="#ff5038"/>
<rect x="499.16" y="197.55" width="13.14" height="1.91" fill="#ff5038"/>
<rect x="409.30" y="199.20" width="13.14" height="1.91" fill="#ffdbc9"/>
<rect x="422.14" y="199.20" width="13.14" height="1.91" fill="#b09af3"/>
<rect x="434.98" y="199.20" width="13.14" height="1.91" fill="#cabef7"/>
<rect x="447.81" y="199.20" width="13.14" height="1.91" fill="#e4dbf9"/>
<rect x="460.65" y="199.20" width="13.14" height="1.91" fill="#ffe3d5"/>
<rect x="473.49" y="199.20" width="13.14" height="1.91" fill="#c7b9f5"/>
<rect x="486.32" y="199.20" width="13.14" height="1.91" fill="#ff3828"/>
<rect x="499.16" y="199.20" width="13.14" height="1.91" fill="#ffd0c0"/>
<rect x="409.30" y="200.86" width="13.14" height="1.91" fill="#ffefe6"/>
<rect x="422.14" y="200.86" width="13.14" height="1.91" fill="#ebe6fc"/>
<rect x="434.98" y="200.86" width="13.14" height="1.91" fill="#b09df5"/>
<rect x="447.81" y="200.86" width="13.14" height="1.91" fill="#f5f3fd"/>
<rect x="460.65" y="200.86" width="13.14" height="1.91" fill="#d7cbf8"/>
<rect x="473.49" y="200.86" width="13.14" height="1.91" fill="#a997f4"/>
<rect x="486.32" y="200.86" width="13.14" height="1.91" fill="#ff4030"/>
<rect x="499.16" y="200.86" width="13.14" height="1.91" fill="#ff8068"/>
<rect x="409.30" y="202.52" width="13.14" height="1.91" fill="#ffe2d3"/>
<rect x="422.14" y="202.52" width="13.14" height="1.91" fill="#dbd1f9"/>
<rect x="434.98" y="202.52" width="13.14" height="1.91" fill="#9f88f2"/>
<rect x="447.81" y="202.52" width="13.14" height="1.91" fill="#f0edfc"/>
<rect x="460.65" y="202.52" width="13.14" height="1.91" fill="#c6b5f6"/>
<rect x="473.49" y="202.52" width="13.14" height="1.91" fill="#927bf1"/>
<rect x="486.32" y="202.52" width="13.14" height="1.91" fill="#ff6048"/>
<rect x="499.16" y="202.52" width="13.14" height="1.91" fill="#ffa088"/>
<rect x="409.30" y="204.18" width="13.14" height="1.91" fill="#ffefe7"/>
<rect x="422.14" y="204.18" width="13.14" height="1.91" fill="#e6dffb"/>
<rect x="434.98" y="204.18" width="13.14" height="1.91" fill="#8567ef"/>
<rect x="447.81" y="204.18" width="13.14" height="1.91" fill="#f4f1fd"/>
<rect x="460.65" y="204.18" width="13.14" height="1.91" fill="#cbbbf6"/>
<rect x="473.49" y="204.18" width="13.14" height="1.91" fill="#8970f0"/>
<rect x="486.32" y="204.18" width="13.14" height="1.91" fill="#ff8870"/>
<rect x="499.16" y="204.18" width="13.14" height="1.91" fill="#ff9070"/>
<rect x="409.30" y="205.83" width="13.14" height="1.91" fill="#ffe2d3"/>
<rect x="422.14" y="205.83" width="13.14" height="1.91" fill="#937cf0"/>
<rect x="434.98" y="205.83" width="13.14" height="1.91" fill="#957ef1"/>
<rect x="447.81" y="205.83" width="13.14" height="1.91" fill="#d6caf8"/>
<rect x="460.65" y="205.83" width="13.14" height="1.91" fill="#ccbff7"/>
<rect x="473.49" y="205.83" width="13.14" height="1.91" fill="#dfd4f8"/>
<rect x="486.32" y="205.83" width="13.14" height="1.91" fill="#ff4830"/>
<rect x="499.16" y="205.83" width="13.14" height="1.91" fill="#ffa890"/>
<rect x="409.30" y="207.49" width="13.14" height="1.91" fill="#ffd6c1"/>
<rect x="422.14" y="207.49" width="13.14" height="1.91" fill="#a491f3"/>
<rect x="434.98" y="207.49" width="13.14" height="1.91" fill="#a490f3"/>
<rect x="447.81" y="207.49" width="13.14" height="1.91" fill="#cfc0f6"/>
<rect x="460.65" y="207.49" width="13.14" height="1.91" fill="#c0b0f6"/>
<rect x="473.49" y="207.49" width="13.14" height="1.91" fill="#e6ddfa"/>
<rect x="486.32" y="207.49" width="13.14" height="1.91" fill="#ff2818"/>
<rect x="499.16" y="207.49" width="13.14" height="1.91" fill="#ff9878"/>
<rect x="409.30" y="209.15" width="13.14" height="1.91" fill="#ffe8dd"/>
<rect x="422.14" y="209.15" width="13.14" height="1.91" fill="#947df1"/>
<rect x="434.98" y="209.15" width="13.14" height="1.91" fill="#7152ec"/>
<rect x="447.81" y="209.15" width="13.14" height="1.91" fill="#cfc1f6"/>
<rect x="460.65" y="209.15" width="13.14" height="1.91" fill="#c5b6f6"/>
<rect x="473.49" y="209.15" width="13.14" height="1.91" fill="#e1d6f8"/>
<rect x="486.32" y="209.15" width="13.14" height="1.91" fill="#ff4030"/>
<rect x="499.16" y="209.15" width="13.14" height="1.91" fill="#ffb098"/>
<rect x="409.30" y="210.81" width="13.14" height="1.91" fill="#efeafc"/>
<rect x="422.14" y="210.81" width="13.14" height="1.91" fill="#c1aff6"/>
<rect x="434.98" y="210.81" width="13.14" height="1.91" fill="#d3c8f8"/>
<rect x="447.81" y="210.81" width="13.14" height="1.91" fill="#e7dffa"/>
<rect x="460.65" y="210.81" width="13.14" height="1.91" fill="#a18ef2"/>
<rect x="473.49" y="210.81" width="13.14" height="1.91" fill="#ffe7da"/>
<rect x="486.32" y="210.81" width="13.14" height="1.91" fill="#ffa088"/>
<rect x="499.16" y="210.81" width="13.14" height="1.91" fill="#ff2010"/>
<rect x="409.30" y="212.46" width="13.14" height="1.91" fill="#e3daf9"/>
<rect x="422.14" y="212.46" width="13.14" height="1.91" fill="#a68ef2"/>
<rect x="434.98" y="212.46" width="13.14" height="1.91" fill="#ccc0f7"/>
<rect x="447.81" y="212.46" width="13.14" height="1.91" fill="#ede7fb"/>
<rect x="460.65" y="212.46" width="13.14" height="1.91" fill="#9f8cf2"/>
<rect x="473.49" y="212.46" width="13.14" height="1.91" fill="#ffebe0"/>
<rect x="486.32" y="212.46" width="13.14" height="1.91" fill="#ff6850"/>
<rect x="499.16" y="212.46" width="13.14" height="1.91" fill="#ff1000"/>
<rect x="409.30" y="214.12" width="13.14" height="2.13" fill="#e3d9f9"/>
<rect x="422.14" y="214.12" width="13.14" height="2.13" fill="#a78ff2"/>
<rect x="434.98" y="214.12" width="13.14" height="2.13" fill="#d5caf9"/>
<rect x="447.81" y="214.12" width="13.14" height="2.13" fill="#e9e1fa"/>
<rect x="460.65" y="214.12" width="13.14" height="2.13" fill="#a08cf2"/>
<rect x="473.49" y="214.12" width="13.14" height="2.13" fill="#ffe2d3"/>
<rect x="486.32" y="214.12" width="13.14" height="2.13" fill="#ff8870"/>
<rect x="499.16" y="214.12" width="13.14" height="2.13" fill="#ff2818"/>
<rect x="409.30" y="216.00" width="13.14" height="1.91" fill="#f6f3fd"/>
<rect x="422.14" y="216.00" width="13.14" height="1.91" fill="#a691f3"/>
<rect x="434.98" y="216.00" width="13.14" height="1.91" fill="#947af1"/>
<rect x="447.81" y="216.00" width="13.14" height="1.91" fill="#dfd5f9"/>
<rect x="460.65" y="216.00" width="13.14" height="1.91" fill="#d8ccf9"/>
<rect x="473.49" y="216.00" width="13.14" height="1.91" fill="#f1edfc"/>
<rect x="486.32" y="216.00" width="13.14" height="1.91" fill="#ff9070"/>
<rect x="499.16" y="216.00" width="13.14" height="1.91" fill="#ff1000"/>
<rect x="409.30" y="217.66" width="13.14" height="1.91" fill="#f4f1fd"/>
<rect x="422.14" y="217.66" width="13.14" height="1.91" fill="#ad99f4"/>
<rect x="434.98" y="217.66" width="13.14" height="1.91" fill="#7d5eee"/>
<rect x="447.81" y="217.66" width="13.14" height="1.91" fill="#dacff8"/>
<rect x="460.65" y="217.66" width="13.14" height="1.91" fill="#c3b2f5"/>
<rect x="473.49" y="217.66" width="13.14" height="1.91" fill="#f2effc"/>
<rect x="486.32" y="217.66" width="13.14" height="1.91" fill="#ffb098"/>
<rect x="499.16" y="217.66" width="13.14" height="1.91" fill="#ff0800"/>
<rect x="409.30" y="219.31" width="13.14" height="1.35" fill="#f3f0fd"/>
<rect x="422.14" y="219.31" width="13.14" height="1.35" fill="#896cef"/>
<rect x="434.98" y="219.31" width="13.14" height="1.35" fill="#876aef"/>
<rect x="447.81" y="219.31" width="13.14" height="1.35" fill="#e0d6f9"/>
<rect x="460.65" y="219.31" width="13.14" height="1.35" fill="#dcd2f9"/>
<rect x="473.49" y="219.31" width="13.14" height="1.35" fill="#f1eefc"/>
<rect x="486.32" y="219.31" width="13.14" height="1.35" fill="#ff9070"/>
<rect x="499.16" y="219.31" width="13.14" height="1.35" fill="#ff1808"/>
<rect x="409.30" y="220.42" width="13.14" height="1.91" fill="#f8f0f4"/>
<rect x="422.14" y="220.42" width="13.14" height="1.91" fill="#ffb7a2"/>
<rect x="434.98" y="220.42" width="13.14" height="1.91" fill="#ffad91"/>
<rect x="447.81" y="220.42" width="13.14" height="1.91" fill="#ff9878"/>
<rect x="460.65" y="220.42" width="13.14" height="1.91" fill="#ffc7b2"/>
<rect x="473.49" y="220.42" width="13.14" height="1.91" fill="#ffd4c2"/>
<rect x="486.32" y="220.42" width="13.14" height="1.91" fill="#d8d0f8"/>
<rect x="499.16" y="220.42" width="13.14" height="1.91" fill="#2818f0"/>
<rect x="409.30" y="222.08" width="13.14" height="1.91" fill="#f9f1f5"/>
<rect x="422.14" y="222.08" width="13.14" height="1.91" fill="#ffab92"/>
<rect x="434.98" y="222.08" width="13.14" height="1.91" fill="#ffc8b6"/>
<rect x="447.81" y="222.08" width="13.14" height="1.91" fill="#ffa68b"/>
<rect x="460.65" y="222.08" width="13.14" height="1.91" fill="#ffbaa0"/>
<rect x="473.49" y="222.08" width="13.14" height="1.91" fill="#ffcbb4"/>
<rect x="486.32" y="222.08" width="13.14" height="1.91" fill="#f0ecfc"/>
<rect x="499.16" y="222.08" width="13.14" height="1.91" fill="#4838f0"/>
<rect x="409.30" y="223.73" width="13.14" height="1.91" fill="#f7edf2"/>
<rect x="422.14" y="223.73" width="13.14" height="1.91" fill="#ffc0ad"/>
<rect x="434.98" y="223.73" width="13.14" height="1.91" fill="#ffb196"/>
<rect x="447.81" y="223.73" width="13.14" height="1.91" fill="#ffc4b2"/>
<rect x="460.65" y="223.73" width="13.14" height="1.91" fill="#ffd0be"/>
<rect x="473.49" y="223.73" width="13.14" height="1.91" fill="#ffc4ab"/>
<rect x="486.32" y="223.73" width="13.14" height="1.91" fill="#ffffff"/>
<rect x="499.16" y="223.73" width="13.14" height="1.91" fill="#1810f0"/>
<rect x="409.30" y="225.39" width="13.14" height="1.91" fill="#ffc6b3"/>
<rect x="422.14" y="225.39" width="13.14" height="1.91" fill="#ffbda6"/>
<rect x="434.98" y="225.39" width="13.14" height="1.91" fill="#ffbeac"/>
<rect x="447.81" y="225.39" width="13.14" height="1.91" fill="#ffcebc"/>
<rect x="460.65" y="225.39" width="13.14" height="1.91" fill="#ffb9a3"/>
<rect x="473.49" y="225.39" width="13.14" height="1.91" fill="#ffbea5"/>
<rect x="486.32" y="225.39" width="13.14" height="1.91" fill="#d8ccf8"/>
<rect x="499.16" y="225.39" width="13.14" height="1.91" fill="#5040f0"/>
<rect x="409.30" y="227.05" width="13.14" height="1.91" fill="#ffd4c5"/>
<rect x="422.14" y="227.05" width="13.14" height="1.91" fill="#ffb399"/>
<rect x="434.98" y="227.05" width="13.14" height="1.91" fill="#ffab94"/>
<rect x="447.81" y="227.05" width="13.14" height="1.91" fill="#ffa684"/>
<rect x="460.65" y="227.05" width="13.14" height="1.91" fill="#ffb6a0"/>
<rect x="473.49" y="227.05" width="13.14" height="1.91" fill="#ffc8b4"/>
<rect x="486.32" y="227.05" width="13.14" height="1.91" fill="#c8b8f6"/>
<rect x="499.16" y="227.05" width="13.14" height="1.91" fill="#2818f0"/>
<rect x="409.30" y="228.71" width="13.14" height="1.91" fill="#ffd9cc"/>
<rect x="422.14" y="228.71" width="13.14" height="1.91" fill="#ffb096"/>
<rect x="434.98" y="228.71" width="13.14" height="1.91" fill="#ff9f85"/>
<rect x="447.81" y="228.71" width="13.14" height="1.91" fill="#ffc0a7"/>
<rect x="460.65" y="228.71" width="13.14" height="1.91" fill="#ffa387"/>
<rect x="473.49" y="228.71" width="13.14" height="1.91" fill="#ffb89d"/>
<rect x="486.32" y="228.71" width="13.14" height="1.91" fill="#d0c4f8"/>
<rect x="499.16" y="228.71" width="13.14" height="1.91" fill="#4838f0"/>
<rect x="409.30" y="230.36" width="13.14" height="1.91" fill="#ffd5c3"/>
<rect x="422.14" y="230.36" width="13.14" height="1.91" fill="#ffbc9f"/>
<rect x="434.98" y="230.36" width="13.14" height="1.91" fill="#ffbaa0"/>
<rect x="447.81" y="230.36" width="13.14" height="1.91" fill="#ffeae2"/>
<rect x="460.65" y="230.36" width="13.14" height="1.91" fill="#ffbda4"/>
<rect x="473.49" y="230.36" width="13.14" height="1.91" fill="#ffd6c8"/>
<rect x="486.32" y="230.36" width="13.14" height="1.91" fill="#d8ccf8"/>
<rect x="499.16" y="230.36" width="13.14" height="1.91" fill="#3020f0"/>
<rect x="409.30" y="232.02" width="13.14" height="1.91" fill="#ffd0bb"/>
<rect x="422.14" y="232.02" width="13.14" height="1.91" fill="#ffd5c3"/>
<rect x="434.98" y="232.02" width="13.14" height="1.91" fill="#ffd5c5"/>
<rect x="447.81" y="232.02" width="13.14" height="1.91" fill="#ffe5db"/>
<rect x="460.65" y="232.02" width="13.14" height="1.91" fill="#ffc8b3"/>
<rect x="473.49" y="232.02" width="13.14" height="1.91" fill="#ffc5b1"/>
<rect x="486.32" y="232.02" width="13.14" height="1.91" fill="#e0d8fa"/>
<rect x="499.16" y="232.02" width="13.14" height="1.91" fill="#1810f0"/>
<rect x="409.30" y="233.68" width="13.14" height="1.91" fill="#ffbfa3"/>
<rect x="422.14" y="233.68" width="13.14" height="1.91" fill="#ffd8c7"/>
<rect x="434.98" y="233.68" width="13.14" height="1.91" fill="#ffcdb9"/>
<rect x="447.81" y="233.68" width="13.14" height="1.91" fill="#ffded1"/>
<rect x="460.65" y="233.68" width="13.14" height="1.91" fill="#ffbba1"/>
<rect x="473.49" y="233.68" width="13.14" height="1.91" fill="#ffd7ca"/>
<rect x="486.32" y="233.68" width="13.14" height="1.91" fill="#d8d0f8"/>
<rect x="499.16" y="233.68" width="13.14" height="1.91" fill="#5848f0"/>
<rect x="409.30" y="235.34" width="13.14" height="1.91" fill="#ffebe5"/>
<rect x="422.14" y="235.34" width="13.14" height="1.91" fill="#ffc7b4"/>
<rect x="434.98" y="235.34" width="13.14" height="1.91" fill="#ffb095"/>
<rect x="447.81" y="235.34" width="13.14" height="1.91" fill="#ffd4c4"/>
<rect x="460.65" y="235.34" width="13.14" height="1.91" fill="#ffc7b5"/>
<rect x="473.49" y="235.34" width="13.14" height="1.91" fill="#ffd4c2"/>
<rect x="486.32" y="235.34" width="13.14" height="1.91" fill="#f8f4fc"/>
<rect x="499.16" y="235.34" width="13.14" height="1.91" fill="#5040f0"/>
<rect x="409.30" y="236.99" width="13.14" height="1.91" fill="#ffece6"/>
<rect x="422.14" y="236.99" width="13.14" height="1.91" fill="#ffb59c"/>
<rect x="434.98" y="236.99" width="13.14" height="1.91" fill="#ffb79e"/>
<rect x="447.81" y="236.99" width="13.14" height="1.91" fill="#ffdacc"/>
<rect x="460.65" y="236.99" width="13.14" height="1.91" fill="#ffd6c8"/>
<rect x="473.49" y="236.99" width="13.14" height="1.91" fill="#ffe8de"/>
<rect x="486.32" y="236.99" width="13.14" height="1.91" fill="#fffcfc"/>
<rect x="499.16" y="236.99" width="13.14" height="1.91" fill="#6050f0"/>
<rect x="409.30" y="238.65" width="13.14" height="1.91" fill="#ffe8e1"/>
<rect x="422.14" y="238.65" width="13.14" height="1.91" fill="#ffa586"/>
<rect x="434.98" y="238.65" width="13.14" height="1.91" fill="#ff9e7d"/>
<rect x="447.81" y="238.65" width="13.14" height="1.91" fill="#ffbea5"/>
<rect x="460.65" y="238.65" width="13.14" height="1.91" fill="#ffb9a1"/>
<rect x="473.49" y="238.65" width="13.14" height="1.91" fill="#ffc8b2"/>
<rect x="486.32" y="238.65" width="13.14" height="1.91" fill="#f0ecfc"/>
<rect x="499.16" y="238.65" width="13.14" height="1.91" fill="#4030f0"/>
<rect x="409.30" y="240.31" width="13.14" height="1.91" fill="#ffc7b1"/>
<rect x="422.14" y="240.31" width="13.14" height="1.91" fill="#ff9a7e"/>
<rect x="434.98" y="240.31" width="13.14" height="1.91" fill="#ffccb6"/>
<rect x="447.81" y="240.31" width="13.14" height="1.91" fill="#ffbfa9"/>
<rect x="460.65" y="240.31" width="13.14" height="1.91" fill="#ffd6c5"/>
<rect x="473.49" y="240.31" width="13.14" height="1.91" fill="#ffb498"/>
<rect x="486.32" y="240.31" width="13.14" height="1.91" fill="#ffffff"/>
<rect x="499.16" y="240.31" width="13.14" height="1.91" fill="#1810f0"/>
<rect x="409.30" y="241.97" width="13.14" height="1.91" fill="#ffb396"/>
<rect x="422.14" y="241.97" width="13.14" height="1.91" fill="#ff8665"/>
<rect x="434.98" y="241.97" width="13.14" height="1.91" fill="#ffd1bd"/>
<rect x="447.81" y="241.97" width="13.14" height="1.91" fill="#ffbaa3"/>
<rect x="460.65" y="241.97" width="13.14" height="1.91" fill="#ffc2a7"/>
<rect x="473.49" y="241.97" width="13.14" height="1.91" fill="#ffa785"/>
<rect x="486.32" y="241.97" width="13.14" height="1.91" fill="#c0b0f4"/>
<rect x="499.16" y="241.97" width="13.14" height="1.91" fill="#5040f0"/>
<rect x="409.30" y="243.62" width="13.14" height="1.91" fill="#ffbca2"/>
<rect x="422.14" y="243.62" width="13.14" height="1.91" fill="#ffa991"/>
<rect x="434.98" y="243.62" width="13.14" height="1.91" fill="#ffc3a9"/>
<rect x="447.81" y="243.62" width="13.14" height="1.91" fill="#ffaf93"/>
<rect x="460.65" y="243.62" width="13.14" height="1.91" fill="#ffb291"/>
<rect x="473.49" y="243.62" width="13.14" height="1.91" fill="#ffc3ad"/>
<rect x="486.32" y="243.62" width="13.14" height="1.91" fill="#b0a0f4"/>
<rect x="499.16" y="243.62" width="13.14" height="1.91" fill="#2818f0"/>
<rect x="409.30" y="245.28" width="13.14" height="1.91" fill="#ffc5b1"/>
<rect x="422.14" y="245.28" width="13.14" height="1.91" fill="#ffae8f"/>
<rect x="434.98" y="245.28" width="13.14" height="1.91" fill="#ffc4b0"/>
<rect x="447.81" y="245.28" width="13.14" height="1.91" fill="#ff9b7f"/>
<rect x="460.65" y="245.28" width="13.14" height="1.91" fill="#ffb199"/>
<rect x="473.49" y="245.28" width="13.14" height="1.91" fill="#ffb9a2"/>
<rect x="486.32" y="245.28" width="13.14" height="1.91" fill="#c0b0f4"/>
<rect x="499.16" y="245.28" width="13.14" height="1.91" fill="#3828f0"/>
<rect x="409.30" y="246.94" width="13.14" height="1.91" fill="#ffcab8"/>
<rect x="422.14" y="246.94" width="13.14" height="1.91" fill="#ffd3c2"/>
<rect x="434.98" y="246.94" width="13.14" height="1.91" fill="#ffdace"/>
<rect x="447.81" y="246.94" width="13.14" height="1.91" fill="#ff9e84"/>
<rect x="460.65" y="246.94" width="13.14" height="1.91" fill="#ffbfac"/>
<rect x="473.49" y="246.94" width="13.14" height="1.91" fill="#ffcdbd"/>
<rect x="486.32" y="246.94" width="13.14" height="1.91" fill="#a890f2"/>
<rect x="499.16" y="246.94" width="13.14" height="1.91" fill="#4030f0"/>
<rect x="409.30" y="248.60" width="13.14" height="1.91" fill="#ffd5c7"/>
<rect x="422.14" y="248.60" width="13.14" height="1.91" fill="#ffcfbd"/>
<rect x="434.98" y="248.60" width="13.14" height="1.91" fill="#ffc9b7"/>
<rect x="447.81" y="248.60" width="13.14" height="1.91" fill="#ffa086"/>
<rect x="460.65" y="248.60" width="13.14" height="1.91" fill="#ffa488"/>
<rect x="473.49" y="248.60" width="13.14" height="1.91" fill="#ffccbb"/>
<rect x="486.32" y="248.60" width="13.14" height="1.91" fill="#b8a8f4"/>
<rect x="499.16" y="248.60" width="13.14" height="1.91" fill="#0800f0"/>
<rect x="409.30" y="250.25" width="13.14" height="1.91" fill="#ffdccd"/>
<rect x="422.14" y="250.25" width="13.14" height="1.91" fill="#ffb39e"/>
<rect x="434.98" y="250.25" width="13.14" height="1.91" fill="#ffc0a8"/>
<rect x="447.81" y="250.25" width="13.14" height="1.91" fill="#ffd1bc"/>
<rect x="460.65" y="250.25" width="13.14" height="1.91" fill="#ffd2c1"/>
<rect x="473.49" y="250.25" width="13.14" height="1.91" fill="#ffb7a3"/>
<rect x="486.32" y="250.25" width="13.14" height="1.91" fill="#a088f2"/>
<rect x="499.16" y="250.25" width="13.14" height="1.91" fill="#1008f0"/>
<rect x="409.30" y="251.91" width="13.14" height="1.91" fill="#ffc0a5"/>
<rect x="422.14" y="251.91" width="13.14" height="1.91" fill="#ff987b"/>
<rect x="434.98" y="251.91" width="13.14" height="1.91" fill="#ffb193"/>
<rect x="447.81" y="251.91" width="13.14" height="1.91" fill="#ffc1a5"/>
<rect x="460.65" y="251.91" width="13.14" height="1.91" fill="#ffccb9"/>
<rect x="473.49" y="251.91" width="13.14" height="1.91" fill="#ff9375"/>
<rect x="486.32" y="251.91" width="13.14" height="1.91" fill="#9c84f2"/>
<rect x="499.16" y="251.91" width="13.14" height="1.91" fill="#0800f0"/>
<rect x="409.30" y="253.57" width="13.14" height="2.68" fill="#ffc9b2"/>
<rect x="422.14" y="253.57" width="13.14" height="2.68" fill="#ffb49f"/>
<rect x="434.98" y="253.57" width="13.14" height="2.68" fill="#ffbba1"/>
<rect x="447.81" y="253.57" width="13.14" height="2.68" fill="#ffd5c3"/>
<rect x="460.65" y="253.57" width="13.14" height="2.68" fill="#ffcdbb"/>
<rect x="473.49" y="253.57" width="13.14" height="2.68" fill="#ffbba8"/>
<rect x="486.32" y="253.57" width="13.14" height="2.68" fill="#a890f2"/>
<rect x="499.16" y="253.57" width="13.14" height="2.68" fill="#0800f0"/>
<rect x="409.30" y="256.00" width="13.14" height="1.91" fill="#f3eefc"/>
<rect x="422.14" y="256.00" width="13.14" height="1.91" fill="#ffc4ad"/>
<rect x="434.98" y="256.00" width="13.14" height="1.91" fill="#ffa287"/>
<rect x="447.81" y="256.00" width="13.14" height="1.91" fill="#ffded1"/>
<rect x="460.65" y="256.00" width="13.14" height="1.91" fill="#ffaa8e"/>
<rect x="473.49" y="256.00" width="13.14" height="1.91" fill="#ffb8a2"/>
<rect x="486.32" y="256.00" width="13.14" height="1.91" fill="#a890f2"/>
<rect x="499.16" y="256.00" width="13.14" height="1.91" fill="#3020f0"/>
<rect x="409.30" y="257.66" width="13.14" height="1.91" fill="#f3eefc"/>
<rect x="422.14" y="257.66" width="13.14" height="1.91" fill="#ffbfa7"/>
<rect x="434.98" y="257.66" width="13.14" height="1.91" fill="#ff7148"/>
<rect x="447.81" y="257.66" width="13.14" height="1.91" fill="#ffe4da"/>
<rect x="460.65" y="257.66" width="13.14" height="1.91" fill="#ffbfa9"/>
<rect x="473.49" y="257.66" width="13.14" height="1.91" fill="#ffa78d"/>
<rect x="486.32" y="257.66" width="13.14" height="1.91" fill="#9c84f2"/>
<rect x="499.16" y="257.66" width="13.14" height="1.91" fill="#6050f0"/>
<rect x="409.30" y="259.31" width="13.14" height="1.91" fill="#f0ebfb"/>
<rect x="422.14" y="259.31" width="13.14" height="1.91" fill="#ffcbb7"/>
<rect x="434.98" y="259.31" width="13.14" height="1.91" fill="#ff8d6b"/>
<rect x="447.81" y="259.31" width="13.14" height="1.91" fill="#ffddcf"/>
<rect x="460.65" y="259.31" width="13.14" height="1.91" fill="#ffbea8"/>
<rect x="473.49" y="259.31" width="13.14" height="1.91" fill="#ff9270"/>
<rect x="486.32" y="259.31" width="13.14" height="1.91" fill="#8c74f0"/>
<rect x="499.16" y="259.31" width="13.14" height="1.91" fill="#7060f0"/>
<rect x="409.30" y="260.97" width="13.14" height="1.91" fill="#ffd7c8"/>
<rect x="422.14" y="260.97" width="13.14" height="1.91" fill="#ffe9e2"/>
<rect x="434.98" y="260.97" width="13.14" height="1.91" fill="#ff896b"/>
<rect x="447.81" y="260.97" width="13.14" height="1.91" fill="#ffb099"/>
<rect x="460.65" y="260.97" width="13.14" height="1.91" fill="#ffc8b2"/>
<rect x="473.49" y="260.97" width="13.14" height="1.91" fill="#ffe4da"/>
<rect x="486.32" y="260.97" width="13.14" height="1.91" fill="#c8b8f6"/>
<rect x="499.16" y="260.97" width="13.14" height="1.91" fill="#0800f0"/>
<rect x="409.30" y="262.63" width="13.14" height="1.91" fill="#ffe3d8"/>
<rect x="422.14" y="262.63" width="13.14" height="1.91" fill="#ffe4da"/>
<rect x="434.98" y="262.63" width="13.14" height="1.91" fill="#ff8c70"/>
<rect x="447.81" y="262.63" width="13.14" height="1.91" fill="#ffb39c"/>
<rect x="460.65" y="262.63" width="13.14" height="1.91" fill="#ffbda3"/>
<rect x="473.49" y="262.63" width="13.14" height="1.91" fill="#ffeae3"/>
<rect x="486.32" y="262.63" width="13.14" height="1.91" fill="#e0d8fa"/>
<rect x="499.16" y="262.63" width="13.14" height="1.91" fill="#0800f0"/>
<rect x="409.30" y="264.29" width="13.14" height="1.91" fill="#ffe7de"/>
<rect x="422.14" y="264.29" width="13.14" height="1.91" fill="#ffe9e1"/>
<rect x="434.98" y="264.29" width="13.14" height="1.91" fill="#ffa088"/>
<rect x="447.81" y="264.29" width="13.14" height="1.91" fill="#ffc5b3"/>
<rect x="460.65" y="264.29" width="13.14" height="1.91" fill="#ffd8c9"/>
<rect x="473.49" y="264.29" width="13.14" height="1.91" fill="#ffece6"/>
<rect x="486.32" y="264.29" width="13.14" height="1.91" fill="#9c84f2"/>
<rect x="499.16" y="264.29" width="13.14" height="1.91" fill="#3020f0"/>
<rect x="409.30" y="265.94" width="13.14" height="1.91" fill="#ffd6c9"/>
<rect x="422.14" y="265.94" width="13.14" height="1.91" fill="#ffcbb5"/>
<rect x="434.98" y="265.94" width="13.14" height="1.91" fill="#ffc1ac"/>
<rect x="447.81" y="265.94" width="13.14" height="1.91" fill="#ff8059"/>
<rect x="460.65" y="265.94" width="13.14" height="1.91" fill="#ffd5c3"/>
<rect x="473.49" y="265.94" width="13.14" height="1.91" fill="#ffd3c0"/>
<rect x="486.32" y="265.94" width="13.14" height="1.91" fill="#a088f2"/>
<rect x="499.16" y="265.94" width="13.14" height="1.91" fill="#1008f0"/>
<rect x="409.30" y="267.60" width="13.14" height="1.91" fill="#ffd9cb"/>
<rect x="422.14" y="267.60" width="13.14" height="1.91" fill="#ffcdb7"/>
<rect x="434.98" y="267.60" width="13.14" height="1.91" fill="#ffbba3"/>
<rect x="447.81" y="267.60" width="13.14" height="1.91" fill="#ffbea9"/>
<rect x="460.65" y="267.60" width="13.14" height="1.91" fill="#ffe5da"/>
<rect x="473.49" y="267.60" width="13.14" height="1.91" fill="#ffc8b0"/>
<rect x="486.32" y="267.60" width="13.14" height="1.91" fill="#b0a0f4"/>
<rect x="499.16" y="267.60" width="13.14" height="1.91" fill="#0800f0"/>
<rect x="409.30" y="269.26" width="13.14" height="1.91" fill="#ffd7ca"/>
<rect x="422.14" y="269.26" width="13.14" height="1.91" fill="#ffd0bb"/>
<rect x="434.98" y="269.26" width="13.14" height="1.91" fill="#ffa789"/>
<rect x="447.81" y="269.26" width="13.14" height="1.91" fill="#ffa68b"/>
<rect x="460.65" y="269.26" width="13.14" height="1.91" fill="#ffd7c7"/>
<rect x="473.49" y="269.26" width="13.14" height="1.91" fill="#ffceb9"/>
<rect x="486.32" y="269.26" width="13.14" height="1.91" fill="#c0b0f4"/>
<rect x="499.16" y="269.26" width="13.14" height="1.91" fill="#1810f0"/>
<rect x="409.30" y="270.92" width="13.14" height="1.91" fill="#ffaa8e"/>
<rect x="422.14" y="270.92" width="13.14" height="1.91" fill="#ffd8c8"/>
<rect x="434.98" y="270.92" width="13.14" height="1.91" fill="#ffc7b1"/>
<rect x="447.81" y="270.92" width="13.14" height="1.91" fill="#ffbaa7"/>
<rect x="460.65" y="270.92" width="13.14" height="1.91" fill="#ff8c69"/>
<rect x="473.49" y="270.92" width="13.14" height="1.91" fill="#ffede3"/>
<rect x="486.32" y="270.92" width="13.14" height="1.91" fill="#a890f2"/>
<rect x="499.16" y="270.92" width="13.14" height="1.91" fill="#2818f0"/>
<rect x="409.30" y="272.57" width="13.14" height="1.91" fill="#ffb197"/>
<rect x="422.14" y="272.57" width="13.14" height="1.91" fill="#ffe6dc"/>
<rect x="434.98" y="272.57" width="13.14" height="1.91" fill="#ffbda4"/>
<rect x="447.81" y="272.57" width="13.14" height="1.91" fill="#ffbaa7"/>
<rect x="460.65" y="272.57" width="13.14" height="1.91" fill="#ff906d"/>
<rect x="473.49" y="272.57" width="13.14" height="1.91" fill="#ffece2"/>
<rect x="486.32" y="272.57" width="13.14" height="1.91" fill="#9078f0"/>
<rect x="499.16" y="272.57" width="13.14" height="1.91" fill="#5040f0"/>
<rect x="409.30" y="274.23" width="13.14" height="1.91" fill="#ffd4c5"/>
<rect x="422.14" y="274.23" width="13.14" height="1.91" fill="#ffe2d7"/>
<rect x="434.98" y="274.23" width="13.14" height="1.91" fill="#ffc1a9"/>
<rect x="447.81" y="274.23" width="13.14" height="1.91" fill="#ff9b80"/>
<rect x="460.65" y="274.23" width="13.14" height="1.91" fill="#ffbca7"/>
<rect x="473.49" y="274.23" width="13.14" height="1.91" fill="#ffe9dd"/>
<rect x="486.32" y="274.23" width="13.14" height="1.91" fill="#8468f0"/>
<rect x="499.16" y="274.23" width="13.14" height="1.91" fill="#6a50f0"/>
<rect x="409.30" y="275.89" width="13.14" height="1.91" fill="#ffd9ca"/>
<rect x="422.14" y="275.89" width="13.14" height="1.91" fill="#ffdcd0"/>
<rect x="434.98" y="275.89" width="13.14" height="1.91" fill="#ffb7a3"/>
<rect x="447.81" y="275.89" width="13.14" height="1.91" fill="#ffbaa2"/>
<rect x="460.65" y="275.89" width="13.14" height="1.91" fill="#ff9578"/>
<rect x="473.49" y="275.89" width="13.14" height="1.91" fill="#ffcbba"/>
<rect x="486.32" y="275.89" width="13.14" height="1.91" fill="#7058f0"/>
<rect x="499.16" y="275.89" width="13.14" height="1.91" fill="#7058f0"/>
<rect x="409.30" y="277.55" width="13.14" height="1.91" fill="#ffd1be"/>
<rect x="422.14" y="277.55" width="13.14" height="1.91" fill="#ffc3af"/>
<rect x="434.98" y="277.55" width="13.14" height="1.91" fill="#ffb8a4"/>
<rect x="447.81" y="277.55" width="13.14" height="1.91" fill="#ffc8b6"/>
<rect x="460.65" y="277.55" width="13.14" height="1.91" fill="#ff9173"/>
<rect x="473.49" y="277.55" width="13.14" height="1.91" fill="#ffa485"/>
<rect x="486.32" y="277.55" width="13.14" height="1.91" fill="#2010f0"/>
<rect x="499.16" y="277.55" width="13.14" height="1.91" fill="#9c84f2"/>
<rect x="409.30" y="279.20" width="13.14" height="1.91" fill="#ffe3d7"/>
<rect x="422.14" y="279.20" width="13.14" height="1.91" fill="#ffc4b0"/>
<rect x="434.98" y="279.20" width="13.14" height="1.91" fill="#ffae98"/>
<rect x="447.81" y="279.20" width="13.14" height="1.91" fill="#ffa789"/>
<rect x="460.65" y="279.20" width="13.14" height="1.91" fill="#ffa289"/>
<rect x="473.49" y="279.20" width="13.14" height="1.91" fill="#ffab8e"/>
<rect x="486.32" y="279.20" width="13.14" height="1.91" fill="#3020f0"/>
<rect x="499.16" y="279.20" width="13.14" height="1.91" fill="#8c74f0"/>
<rect x="409.30" y="280.86" width="13.14" height="1.91" fill="#ffb399"/>
<rect x="422.14" y="280.86" width="13.14" height="1.91" fill="#ffeee5"/>
<rect x="434.98" y="280.86" width="13.14" height="1.91" fill="#ffa88d"/>
<rect x="447.81" y="280.86" width="13.14" height="1.91" fill="#eeeafc"/>
<rect x="460.65" y="280.86" width="13.14" height="1.91" fill="#ff8e6b"/>
<rect x="473.49" y="280.86" width="13.14" height="1.91" fill="#ffded2"/>
<rect x="486.32" y="280.86" width="13.14" height="1.91" fill="#2818f0"/>
<rect x="499.16" y="280.86" width="13.14" height="1.91" fill="#a088f2"/>
<rect x="409.30" y="282.52" width="13.14" height="1.91" fill="#ffc2ae"/>
<rect x="422.14" y="282.52" width="13.14" height="1.91" fill="#ffeadf"/>
<rect x="434.98" y="282.52" width="13.14" height="1.91" fill="#ffa88d"/>
<rect x="447.81" y="282.52" width="13.14" height="1.91" fill="#f5f2fd"/>
<rect x="460.65" y="282.52" width="13.14" height="1.91" fill="#ffb098"/>
<rect x="473.49" y="282.52" width="13.14" height="1.91" fill="#ffcebd"/>
<rect x="486.32" y="282.52" width="13.14" height="1.91" fill="#3828f0"/>
<rect x="499.16" y="282.52" width="13.14" height="1.91" fill="#9078f0"/>
<rect x="409.30" y="284.18" width="13.14" height="1.91" fill="#ffc3af"/>
<rect x="422.14" y="284.18" width="13.14" height="1.91" fill="#ffe4d7"/>
<rect x="434.98" y="284.18" width="13.14" height="1.91" fill="#ff7c53"/>
<rect x="447.81" y="284.18" width="13.14" height="1.91" fill="#f2effc"/>
<rect x="460.65" y="284.18" width="13.14" height="1.91" fill="#ff774d"/>
<rect x="473.49" y="284.18" width="13.14" height="1.91" fill="#ffd5c7"/>
<rect x="486.32" y="284.18" width="13.14" height="1.91" fill="#5040f0"/>
<rect x="499.16" y="284.18" width="13.14" height="1.91" fill="#8468f0"/>
<rect x="409.30" y="285.83" width="13.14" height="1.91" fill="#ffcdbc"/>
<rect x="422.14" y="285.83" width="13.14" height="1.91" fill="#ffcbb9"/>
<rect x="434.98" y="285.83" width="13.14" height="1.91" fill="#ffa184"/>
<rect x="447.81" y="285.83" width="13.14" height="1.91" fill="#ffd1c1"/>
<rect x="460.65" y="285.83" width="13.14" height="1.91" fill="#ff987f"/>
<rect x="473.49" y="285.83" width="13.14" height="1.91" fill="#ffe0d5"/>
<rect x="486.32" y="285.83" width="13.14" height="1.91" fill="#8c74f0"/>
<rect x="499.16" y="285.83" width="13.14" height="1.91" fill="#5848f0"/>
<rect x="409.30" y="287.49" width="13.14" height="1.91" fill="#ffcfbf"/>
<rect x="422.14" y="287.49" width="13.14" height="1.91" fill="#ffcfbf"/>
<rect x="434.98" y="287.49" width="13.14" height="1.91" fill="#ffb198"/>
<rect x="447.81" y="287.49" width="13.14" height="1.91" fill="#ffcab9"/>
<rect x="460.65" y="287.49" width="13.14" height="1.91" fill="#ff9c83"/>
<rect x="473.49" y="287.49" width="13.14" height="1.91" fill="#ffe3d9"/>
<rect x="486.32" y="287.49" width="13.14" height="1.91" fill="#a088f2"/>
<rect x="499.16" y="287.49" width="13.14" height="1.91" fill="#2010f0"/>
<rect x="409.30" y="289.15" width="13.14" height="1.91" fill="#ffc4b0"/>
<rect x="422.14" y="289.15" width="13.14" height="1.91" fill="#ffcdbd"/>
<rect x="434.98" y="289.15" width="13.14" height="1.91" fill="#ffa487"/>
<rect x="447.81" y="289.15" width="13.14" height="1.91" fill="#ffcdbc"/>
<rect x="460.65" y="289.15" width="13.14" height="1.91" fill="#ffaf9b"/>
<rect x="473.49" y="289.15" width="13.14" height="1.91" fill="#ffe4da"/>
<rect x="486.32" y="289.15" width="13.14" height="1.91" fill="#9c84f2"/>
<rect x="499.16" y="289.15" width="13.14" height="1.91" fill="#1810f0"/>
<rect x="409.30" y="290.81" width="13.14" height="1.91" fill="#ffcbb9"/>
<rect x="422.14" y="290.81" width="13.14" height="1.91" fill="#ffbca5"/>
<rect x="434.98" y="290.81" width="13.14" height="1.91" fill="#ffb19a"/>
<rect x="447.81" y="290.81" width="13.14" height="1.91" fill="#ffc7b7"/>
<rect x="460.65" y="290.81" width="13.14" height="1.91" fill="#ffb49a"/>
<rect x="473.49" y="290.81" width="13.14" height="1.91" fill="#ffd7c5"/>
<rect x="486.32" y="290.81" width="13.14" height="1.91" fill="#a088f2"/>
<rect x="499.16" y="290.81" width="13.14" height="1.91" fill="#2818f0"/>
<rect x="409.30" y="292.46" width="13.14" height="1.91" fill="#ffa78a"/>
<rect x="422.14" y="292.46" width="13.14" height="1.91" fill="#ffb399"/>
<rect x="434.98" y="292.46" width="13.14" height="1.91" fill="#ffc0ac"/>
<rect x="447.81" y="292.46" width="13.14" height="1.91" fill="#ffaa91"/>
<rect x="460.65" y="292.46" width="13.14" height="1.91" fill="#ffb8a0"/>
<rect x="473.49" y="292.46" width="13.14" height="1.91" fill="#ffb595"/>
<rect x="486.32" y="292.46" width="13.14" height="1.91" fill="#9c84f2"/>
<rect x="499.16" y="292.46" width="13.14" height="1.91" fill="#4030f0"/>
<rect x="409.30" y="294.12" width="13.14" height="2.13" fill="#ffb196"/>
<rect x="422.14" y="294.12" width="13.14" height="2.13" fill="#ffab8e"/>
<rect x="434.98" y="294.12" width="13.14" height="2.13" fill="#ffae95"/>
<rect x="447.81" y="294.12" width="13.14" height="2.13" fill="#ffaa90"/>
<rect x="460.65" y="294.12" width="13.14" height="2.13" fill="#ffcdbc"/>
<rect x="473.49" y="294.12" width="13.14" height="2.13" fill="#ffbea2"/>
<rect x="486.32" y="294.12" width="13.14" height="2.13" fill="#a890f2"/>
<rect x="499.16" y="294.12" width="13.14" height="2.13" fill="#3020f0"/>
<rect x="409.30" y="295.89" width="13.14" height="1.91" fill="#ff7c53"/>
<rect x="422.14" y="295.89" width="13.14" height="1.91" fill="#ff9c7f"/>
<rect x="434.98" y="295.89" width="13.14" height="1.91" fill="#ffd3c0"/>
<rect x="447.81" y="295.89" width="13.14" height="1.91" fill="#ffb599"/>
<rect x="460.65" y="295.89" width="13.14" height="1.91" fill="#ffa688"/>
<rect x="473.49" y="295.89" width="13.14" height="1.91" fill="#ffe8df"/>
<rect x="486.32" y="295.89" width="13.14" height="1.91" fill="#3020f0"/>
<rect x="499.16" y="295.89" width="13.14" height="1.91" fill="#8c74f0"/>
<rect x="409.30" y="297.55" width="13.14" height="1.91" fill="#ff8d69"/>
<rect x="422.14" y="297.55" width="13.14" height="1.91" fill="#ffc4b2"/>
<rect x="434.98" y="297.55" width="13.14" height="1.91" fill="#ffbda1"/>
<rect x="447.81" y="297.55" width="13.14" height="1.91" fill="#ffcbb8"/>
<rect x="460.65" y="297.55" width="13.14" height="1.91" fill="#ffae92"/>
<rect x="473.49" y="297.55" width="13.14" height="1.91" fill="#ffe8df"/>
<rect x="486.32" y="297.55" width="13.14" height="1.91" fill="#1810f0"/>
<rect x="499.16" y="297.55" width="13.14" height="1.91" fill="#b0a0f4"/>
<rect x="409.30" y="299.20" width="13.14" height="1.91" fill="#ff7e56"/>
<rect x="422.14" y="299.20" width="13.14" height="1.91" fill="#ffbeaa"/>
<rect x="434.98" y="299.20" width="13.14" height="1.91" fill="#ffd0bb"/>
<rect x="447.81" y="299.20" width="13.14" height="1.91" fill="#ffc0a8"/>
<rect x="460.65" y="299.20" width="13.14" height="1.91" fill="#ffc0aa"/>
<rect x="473.49" y="299.20" width="13.14" height="1.91" fill="#ffe9e0"/>
<rect x="486.32" y="299.20" width="13.14" height="1.91" fill="#0800f0"/>
<rect x="499.16" y="299.20" width="13.14" height="1.91" fill="#e0d8fa"/>
<rect x="409.30" y="300.86" width="13.14" height="1.91" fill="#ffc2b1"/>
<rect x="422.14" y="300.86" width="13.14" height="1.91" fill="#ffbfa3"/>
<rect x="434.98" y="300.86" width="13.14" height="1.91" fill="#ffe0d3"/>
<rect x="447.81" y="300.86" width="13.14" height="1.91" fill="#ffae93"/>
<rect x="460.65" y="300.86" width="13.14" height="1.91" fill="#ffe9e9"/>
<rect x="473.49" y="300.86" width="13.14" height="1.91" fill="#ffd5c4"/>
<rect x="486.32" y="300.86" width="13.14" height="1.91" fill="#2818f0"/>
<rect x="499.16" y="300.86" width="13.14" height="1.91" fill="#9c84f2"/>
<rect x="409.30" y="302.52" width="13.14" height="1.91" fill="#ffb09b"/>
<rect x="422.14" y="302.52" width="13.14" height="1.91" fill="#ffcab3"/>
<rect x="434.98" y="302.52" width="13.14" height="1.91" fill="#ffe6dd"/>
<rect x="447.81" y="302.52" width="13.14" height="1.91" fill="#ffb096"/>
<rect x="460.65" y="302.52" width="13.14" height="1.91" fill="#ffe3e3"/>
<rect x="473.49" y="302.52" width="13.14" height="1.91" fill="#ffdbcc"/>
<rect x="486.32" y="302.52" width="13.14" height="1.91" fill="#4838f0"/>
<rect x="499.16" y="302.52" width="13.14" height="1.91" fill="#6050f0"/>
<rect x="409.30" y="304.18" width="13.14" height="1.91" fill="#ffb39e"/>
<rect x="422.14" y="304.18" width="13.14" height="1.91" fill="#ffb190"/>
<rect x="434.98" y="304.18" width="13.14" height="1.91" fill="#ffdacc"/>
<rect x="447.81" y="304.18" width="13.14" height="1.91" fill="#ffb49b"/>
<rect x="460.65" y="304.18" width="13.14" height="1.91" fill="#ffd7d7"/>
<rect x="473.49" y="304.18" width="13.14" height="1.91" fill="#ffd9c9"/>
<rect x="486.32" y="304.18" width="13.14" height="1.91" fill="#5040f0"/>
<rect x="499.16" y="304.18" width="13.14" height="1.91" fill="#4838f0"/>
<rect x="409.30" y="305.83" width="13.14" height="1.91" fill="#ff5e38"/>
<rect x="422.14" y="305.83" width="13.14" height="1.91" fill="#ffab91"/>
<rect x="434.98" y="305.83" width="13.14" height="1.91" fill="#ffccb7"/>
<rect x="447.81" y="305.83" width="13.14" height="1.91" fill="#ffc2a7"/>
<rect x="460.65" y="305.83" width="13.14" height="1.91" fill="#ffcbb4"/>
<rect x="473.49" y="305.83" width="13.14" height="1.91" fill="#ece6fb"/>
<rect x="486.32" y="305.83" width="13.14" height="1.91" fill="#7060f0"/>
<rect x="499.16" y="305.83" width="13.14" height="1.91" fill="#2818f0"/>
<rect x="409.30" y="307.49" width="13.14" height="1.91" fill="#ff704f"/>
<rect x="422.14" y="307.49" width="13.14" height="1.91" fill="#ffc6b5"/>
<rect x="434.98" y="307.49" width="13.14" height="1.91" fill="#ffdacb"/>
<rect x="447.81" y="307.49" width="13.14" height="1.91" fill="#ffbfa4"/>
<rect x="460.65" y="307.49" width="13.14" height="1.91" fill="#ffcdb7"/>
<rect x="473.49" y="307.49" width="13.14" height="1.91" fill="#f1edfc"/>
<rect x="486.32" y="307.49" width="13.14" height="1.91" fill="#8c74f0"/>
<rect x="499.16" y="307.49" width="13.14" height="1.91" fill="#2010f0"/>
<rect x="409.30" y="309.15" width="13.14" height="1.91" fill="#ffa893"/>
<rect x="422.14" y="309.15" width="13.14" height="1.91" fill="#ffcbbb"/>
<rect x="434.98" y="309.15" width="13.14" height="1.91" fill="#ffe2d7"/>
<rect x="447.81" y="309.15" width="13.14" height="1.91" fill="#ffc7af"/>
<rect x="460.65" y="309.15" width="13.14" height="1.91" fill="#ffcdb8"/>
<rect x="473.49" y="309.15" width="13.14" height="1.91" fill="#f1edfc"/>
<rect x="486.32" y="309.15" width="13.14" height="1.91" fill="#9c84f2"/>
<rect x="499.16" y="309.15" width="13.14" height="1.91" fill="#3828f0"/>
<rect x="409.30" y="310.81" width="13.14" height="2.35" fill="#ff8669"/>
<rect x="422.14" y="310.81" width="13.14" height="2.35" fill="#ffb49d"/>
<rect x="434.98" y="310.81" width="13.14" height="2.35" fill="#ffd0bc"/>
<rect x="447.81" y="310.81" width="13.14" height="2.35" fill="#ffd1bd"/>
<rect x="460.65" y="310.81" width="13.14" height="2.35" fill="#ffd2be"/>
<rect x="473.49" y="310.81" width="13.14" height="2.35" fill="#f0ebfc"/>
<rect x="486.32" y="310.81" width="13.14" height="2.35" fill="#8468f0"/>
<rect x="499.16" y="310.81" width="13.14" height="2.35" fill="#4030f0"/>
<path d="M408.20 57.71L406.43 57.71M408.20 59.37L406.43 59.37M406.43 57.71L406.43 59.37M406.43 58.54L405.40 58.54M408.20 61.03L405.40 61.03M405.40 58.54L405.40 61.03M405.40 59.78L404.67 59.78M408.20 62.69L404.67 62.69M404.67 59.78L404.67 62.69M408.20 64.34L406.43 64.34M408.20 66.00L406.43 66.00M406.43 64.34L406.43 66.00M408.20 67.66L406.43 67.66M408.20 69.31L406.43 69.31M406.43 67.66L406.43 69.31M406.43 65.17L404.67 65.17M406.43 68.49L404.67 68.49M404.67 65.17L404.67 68.49M408.20 70.97L406.43 70.97M408.20 72.63L406.43 72.63M406.43 70.97L406.43 72.63M404.67 66.83L403.64 66.83M406.43 71.80L403.64 71.80M403.64 66.83L403.64 71.80M404.67 61.23L402.33 61.23M403.64 69.31L402.33 69.31M402.33 61.23L402.33 69.31M408.20 74.29L406.43 74.29M408.20 75.94L406.43 75.94M406.43 74.29L406.43 75.94M406.43 75.12L405.40 75.12M408.20 77.60L405.40 77.60M405.40 75.12L405.40 77.60M408.20 79.26L406.43 79.26M408.20 80.92L406.43 80.92M406.43 79.26L406.43 80.92M405.40 76.36L404.10 76.36M406.43 80.09L404.10 80.09M404.10 76.36L404.10 80.09M402.33 65.27L401.30 65.27M404.10 78.22L401.30 78.22M401.30 65.27L401.30 78.22M408.20 82.57L406.43 82.57M408.20 84.23L406.43 84.23M406.43 82.57L406.43 84.23M406.43 83.40L405.40 83.40M408.20 85.89L405.40 85.89M405.40 83.40L405.40 85.89M405.40 84.65L404.67 84.65M408.20 87.55L404.67 87.55M404.67 84.65L404.67 87.55M408.20 89.20L406.43 89.20M408.20 90.86L406.43 90.86M406.43 89.20L406.43 90.86M404.67 86.10L403.64 86.10M406.43 90.03L403.64 90.03M403.64 86.10L403.64 90.03M408.20 92.52L406.43 92.52M408.20 94.18L406.43 94.18M406.43 92.52L406.43 94.18M406.43 93.35L405.40 93.35M408.20 95.50L405.40 95.50M405.40 93.35L405.40 95.50M405.40 94.43L404.67 94.43M408.20 96.83L404.67 96.83M404.67 94.43L404.67 96.83M403.64 88.06L402.33 88.06M404.67 95.63L402.33 95.63M402.33 88.06L402.33 95.63M401.30 71.75L400.00 71.75M402.33 91.85L400.00 91.85M400.00 71.75L400.00 91.85M408.20 98.49L406.46 98.49M408.20 100.14L406.46 100.14M406.46 98.49L406.46 100.14M406.46 99.31L405.43 99.31M408.20 101.80L405.43 101.80M405.43 99.31L405.43 101.80M405.43 100.56L404.71 100.56M408.20 103.46L404.71 103.46M404.71 100.56L404.71 103.46M408.20 105.12L406.46 105.12M408.20 106.77L406.46 106.77M406.46 105.12L406.46 106.77M408.20 108.43L406.46 108.43M408.20 110.09L406.46 110.09M406.46 108.43L406.46 110.09M406.46 105.94L404.71 105.94M406.46 109.26L404.71 109.26M404.71 105.94L404.71 109.26M404.71 107.60L404.11 107.60M408.20 111.75L404.11 111.75M404.11 107.60L404.11 111.75M404.71 102.01L402.67 102.01M404.11 109.67L402.67 109.67M402.67 102.01L402.67 109.67M408.20 113.40L406.46 113.40M408.20 115.06L406.46 115.06M406.46 113.40L406.46 115.06M406.46 114.23L405.43 114.23M408.20 116.72L405.43 116.72M405.43 114.23L405.43 116.72M405.43 115.48L404.71 115.48M408.20 118.38L404.71 118.38M404.71 115.48L404.71 118.38M408.20 120.03L406.46 120.03M408.20 121.69L406.46 121.69M406.46 120.03L406.46 121.69M404.71 116.93L403.69 116.93M406.46 120.86L403.69 120.86M403.69 116.93L403.69 120.86M408.20 123.35L406.46 123.35M408.20 125.01L406.46 125.01M406.46 123.35L406.46 125.01M406.46 124.18L405.43 124.18M408.20 126.66L405.43 126.66M405.43 124.18L405.43 126.66M408.20 128.32L406.46 128.32M408.20 129.98L406.46 129.98M406.46 128.32L406.46 129.98M406.46 129.15L405.43 129.15M408.20 131.64L405.43 131.64M405.43 129.15L405.43 131.64M405.43 125.42L403.69 125.42M405.43 130.39L403.69 130.39M403.69 125.42L403.69 130.39M408.20 133.29L406.46 133.29M408.20 135.06L406.46 135.06M406.46 133.29L406.46 135.06M406.46 134.18L405.43 134.18M408.20 136.83L405.43 136.83M405.43 134.18L405.43 136.83M403.69 127.91L402.67 127.91M405.43 135.50L402.67 135.50M402.67 127.91L402.67 135.50M403.69 118.89L401.38 118.89M402.67 131.70L401.38 131.70M401.38 118.89L401.38 131.70M402.67 105.84L400.20 105.84M401.38 125.30L400.20 125.30M400.20 105.84L400.20 125.30M400.00 81.80L398.40 81.80M400.20 115.57L398.40 115.57M398.40 81.80L398.40 115.57M408.20 138.49L406.43 138.49M408.20 140.14L406.43 140.14M406.43 138.49L406.43 140.14M406.43 139.31L405.40 139.31M408.20 141.80L405.40 141.80M405.40 139.31L405.40 141.80M408.20 143.46L406.43 143.46M408.20 145.12L406.43 145.12M406.43 143.46L406.43 145.12M406.43 144.29L405.40 144.29M408.20 146.77L405.40 146.77M405.40 144.29L405.40 146.77M405.40 140.56L403.64 140.56M405.40 145.53L403.64 145.53M403.64 140.56L403.64 145.53M408.20 148.43L406.43 148.43M408.20 150.09L406.43 150.09M406.43 148.43L406.43 150.09M408.20 151.75L406.43 151.75M408.20 153.40L406.43 153.40M406.43 151.75L406.43 153.40M406.43 149.26L404.67 149.26M406.43 152.57L404.67 152.57M404.67 149.26L404.67 152.57M408.20 155.06L406.43 155.06M408.20 156.72L406.43 156.72M406.43 155.06L406.43 156.72M408.20 158.38L406.43 158.38M408.20 160.03L406.43 160.03M406.43 158.38L406.43 160.03M406.43 155.89L404.67 155.89M406.43 159.20L404.67 159.20M404.67 155.89L404.67 159.20M404.67 150.92L402.90 150.92M404.67 157.55L402.90 157.55M402.90 150.92L402.90 157.55M403.64 143.04L401.48 143.04M402.90 154.23L401.48 154.23M401.48 143.04L401.48 154.23M408.20 161.69L406.43 161.69M408.20 163.35L406.43 163.35M406.43 161.69L406.43 163.35M408.20 165.01L406.43 165.01M408.20 166.66L406.43 166.66M406.43 165.01L406.43 166.66M406.43 162.52L404.67 162.52M406.43 165.83L404.67 165.83M404.67 162.52L404.67 165.83M408.20 168.32L406.43 168.32M408.20 169.98L406.43 169.98M406.43 168.32L406.43 169.98M406.43 169.15L405.40 169.15M408.20 171.64L405.40 171.64M405.40 169.15L405.40 171.64M404.67 164.18L403.24 164.18M405.40 170.39L403.24 170.39M403.24 164.18L403.24 170.39M408.20 173.29L406.43 173.29M408.20 175.06L406.43 175.06M406.43 173.29L406.43 175.06M406.43 174.18L405.40 174.18M408.20 176.83L405.40 176.83M405.40 174.18L405.40 176.83M405.40 175.50L404.67 175.50M408.20 178.49L404.67 178.49M404.67 175.50L404.67 178.49M403.24 167.28L402.09 167.28M404.67 176.99L402.09 176.99M402.09 167.28L402.09 176.99M401.48 148.64L400.00 148.64M402.09 172.14L400.00 172.14M400.00 148.64L400.00 172.14M408.20 180.14L406.52 180.14M408.20 181.80L406.52 181.80M406.52 180.14L406.52 181.80M406.52 180.97L405.54 180.97M408.20 183.46L405.54 183.46M405.54 180.97L405.54 183.46M408.20 185.12L406.52 185.12M408.20 186.77L406.52 186.77M406.52 185.12L406.52 186.77M406.52 185.94L405.54 185.94M408.20 188.43L405.54 188.43M405.54 185.94L405.54 188.43M405.54 182.22L403.86 182.22M405.54 187.19L403.86 187.19M403.86 182.22L403.86 187.19M408.20 190.09L406.52 190.09M408.20 191.75L406.52 191.75M406.52 190.09L406.52 191.75M408.20 193.40L406.52 193.40M408.20 195.06L406.52 195.06M406.52 193.40L406.52 195.06M406.52 190.92L404.84 190.92M406.52 194.23L404.84 194.23M404.84 190.92L404.84 194.23M403.86 184.70L402.62 184.70M404.84 192.57L402.62 192.57M402.62 184.70L402.62 192.57M408.20 196.72L406.52 196.72M408.20 198.38L406.52 198.38M406.52 196.72L406.52 198.38M406.52 197.55L405.54 197.55M408.20 200.03L405.54 200.03M405.54 197.55L405.54 200.03M405.54 198.79L404.84 198.79M408.20 201.69L404.84 201.69M404.84 198.79L404.84 201.69M408.20 203.35L406.52 203.35M408.20 205.01L406.52 205.01M406.52 203.35L406.52 205.01M404.84 200.24L403.86 200.24M406.52 204.18L403.86 204.18M403.86 200.24L403.86 204.18M408.20 206.66L406.52 206.66M408.20 208.32L406.52 208.32M406.52 206.66L406.52 208.32M406.52 207.49L405.54 207.49M408.20 209.98L405.54 209.98M405.54 207.49L405.54 209.98M403.86 202.21L402.88 202.21M405.54 208.73L402.88 208.73M402.88 202.21L402.88 208.73M408.20 211.64L406.52 211.64M408.20 213.29L406.52 213.29M406.52 211.64L406.52 213.29M406.52 212.46L405.54 212.46M408.20 215.06L405.54 215.06M405.54 212.46L405.54 215.06M408.20 216.83L406.52 216.83M408.20 218.49L406.52 218.49M406.52 216.83L406.52 218.49M406.52 217.66L405.54 217.66M408.20 219.87L405.54 219.87M405.54 217.66L405.54 219.87M405.54 213.76L403.86 213.76M405.54 218.76L403.86 218.76M403.86 213.76L403.86 218.76M402.88 205.47L401.64 205.47M403.86 216.26L401.64 216.26M401.64 205.47L401.64 216.26M402.62 188.64L400.40 188.64M401.64 210.87L400.40 210.87M400.40 188.64L400.40 210.87M400.00 160.39L398.80 160.39M400.40 199.75L398.80 199.75M398.80 160.39L398.80 199.75M398.40 98.68L396.80 98.68M398.80 180.07L396.80 180.07M396.80 98.68L396.80 180.07M408.20 221.25L406.35 221.25M408.20 222.91L406.35 222.91M406.35 221.25L406.35 222.91M406.35 222.08L405.27 222.08M408.20 224.56L405.27 224.56M405.27 222.08L405.27 224.56M408.20 226.22L406.35 226.22M408.20 227.88L406.35 227.88M406.35 226.22L406.35 227.88M406.35 227.05L405.27 227.05M408.20 229.54L405.27 229.54M405.27 227.05L405.27 229.54M405.27 223.32L403.42 223.32M405.27 228.29L403.42 228.29M403.42 223.32L403.42 228.29M408.20 231.19L406.35 231.19M408.20 232.85L406.35 232.85M406.35 231.19L406.35 232.85M406.35 232.02L405.27 232.02M408.20 234.51L405.27 234.51M405.27 232.02L405.27 234.51M405.27 233.27L404.50 233.27M408.20 236.17L404.50 236.17M404.50 233.27L404.50 236.17M403.42 225.81L402.05 225.81M404.50 234.72L402.05 234.72M402.05 225.81L402.05 234.72M408.20 237.82L406.35 237.82M408.20 239.48L406.35 239.48M406.35 237.82L406.35 239.48M408.20 241.14L406.35 241.14M408.20 242.80L406.35 242.80M406.35 241.14L406.35 242.80M406.35 238.65L404.50 238.65M406.35 241.97L404.50 241.97M404.50 238.65L404.50 241.97M408.20 244.45L406.35 244.45M408.20 246.11L406.35 246.11M406.35 244.45L406.35 246.11M406.35 245.28L405.27 245.28M408.20 247.77L405.27 247.77M405.27 245.28L405.27 247.77M408.20 249.43L406.35 249.43M408.20 251.08L406.35 251.08M406.35 249.43L406.35 251.08M406.35 250.25L405.27 250.25M408.20 252.74L405.27 252.74M405.27 250.25L405.27 252.74M405.27 246.52L403.42 246.52M405.27 251.50L403.42 251.50M403.42 246.52L403.42 251.50M404.50 240.31L402.05 240.31M403.42 249.01L402.05 249.01M402.05 240.31L402.05 249.01M402.05 230.26L400.20 230.26M402.05 244.66L400.20 244.66M400.20 230.26L400.20 244.66M408.20 254.78L406.27 254.78M408.20 256.83L406.27 256.83M406.27 254.78L406.27 256.83M408.20 258.49L406.27 258.49M408.20 260.14L406.27 260.14M406.27 258.49L406.27 260.14M406.27 259.31L405.14 259.31M408.20 261.80L405.14 261.80M405.14 259.31L405.14 261.80M406.27 255.81L403.72 255.81M405.14 260.56L403.72 260.56M403.72 255.81L403.72 260.56M408.20 263.46L406.27 263.46M408.20 265.12L406.27 265.12M406.27 263.46L406.27 265.12M406.27 264.29L405.14 264.29M408.20 266.77L405.14 266.77M405.14 264.29L405.14 266.77M403.72 258.18L402.41 258.18M405.14 265.53L402.41 265.53M402.41 258.18L402.41 265.53M408.20 268.43L406.27 268.43M408.20 270.09L406.27 270.09M406.27 268.43L406.27 270.09M406.27 269.26L405.14 269.26M408.20 271.75L405.14 271.75M405.14 269.26L405.14 271.75M405.14 270.50L404.34 270.50M408.20 273.40L404.34 273.40M404.34 270.50L404.34 273.40M402.41 261.86L401.28 261.86M404.34 271.95L401.28 271.95M401.28 261.86L401.28 271.95M408.20 275.06L406.27 275.06M408.20 276.72L406.27 276.72M406.27 275.06L406.27 276.72M408.20 278.38L406.27 278.38M408.20 280.03L406.27 280.03M406.27 278.38L406.27 280.03M406.27 275.89L404.34 275.89M406.27 279.20L404.34 279.20M404.34 275.89L404.34 279.20M408.20 281.69L406.27 281.69M408.20 283.35L406.27 283.35M406.27 281.69L406.27 283.35M406.27 282.52L405.14 282.52M408.20 285.01L405.14 285.01M405.14 282.52L405.14 285.01M404.34 277.55L402.78 277.55M405.14 283.76L402.78 283.76M402.78 277.55L402.78 283.76M401.28 266.90L400.00 266.90M402.78 280.65L400.00 280.65M400.00 266.90L400.00 280.65M400.20 237.46L398.50 237.46M400.00 273.78L398.50 273.78M398.50 237.46L398.50 273.78M408.20 286.66L406.30 286.66M408.20 288.32L406.30 288.32M406.30 286.66L406.30 288.32M408.20 289.98L406.30 289.98M408.20 291.64L406.30 291.64M406.30 289.98L406.30 291.64M406.30 290.81L405.19 290.81M408.20 293.29L405.19 293.29M405.19 290.81L405.19 293.29M406.30 287.49L403.79 287.49M405.19 292.05L403.79 292.05M403.79 287.49L403.79 292.05M408.20 295.06L406.30 295.06M408.20 296.72L406.30 296.72M406.30 295.06L406.30 296.72M406.30 295.89L405.19 295.89M408.20 298.38L405.19 298.38M405.19 295.89L405.19 298.38M403.79 289.77L402.50 289.77M405.19 297.13L402.50 297.13M402.50 289.77L402.50 297.13M408.20 300.03L406.30 300.03M408.20 301.69L406.30 301.69M406.30 300.03L406.30 301.69M406.30 300.86L405.19 300.86M408.20 303.35L405.19 303.35M405.19 300.86L405.19 303.35M408.20 305.01L406.30 305.01M408.20 306.66L406.30 306.66M406.30 305.01L406.30 306.66M405.19 302.10L403.79 302.10M406.30 305.83L403.79 305.83M403.79 302.10L403.79 305.83M408.20 308.32L406.30 308.32M408.20 309.98L406.30 309.98M406.30 308.32L406.30 309.98M406.30 309.15L405.19 309.15M408.20 311.86L405.19 311.86M405.19 309.15L405.19 311.86M403.79 303.97L402.50 303.97M405.19 310.50L402.50 310.50M402.50 303.97L402.50 310.50M402.50 293.45L400.60 293.45M402.50 307.24L400.60 307.24M400.60 293.45L400.60 307.24M398.50 255.62L396.00 255.62M400.60 300.34L396.00 300.34M396.00 255.62L396.00 300.34M396.80 139.38L391.00 139.38M396.00 277.98L391.00 277.98M391.00 139.38L391.00 277.98" stroke="#111" stroke-width="0.85" fill="none"/>
<text x="238.30" y="328.80" font-size="8.2" fill="#111" stroke="#111" stroke-width="0.1" font-weight="bold" textLength="28.6" lengthAdjust="spacingAndGlyphs">z-score</text>
<defs><linearGradient id="g238" x1="0" x2="1" y1="0" y2="0"><stop offset="0.1" stop-color="#0000ff"/><stop offset="0.5" stop-color="#ffffff"/><stop offset="0.9" stop-color="#ff0000"/></linearGradient></defs>
<rect x="238.0" y="332.1" width="52" height="9.0" fill="url(#g238)"/>
<rect x="243.10" y="332.1" width="0.8" height="1.3" fill="#fff" opacity="0.8"/>
<rect x="243.10" y="339.8" width="0.8" height="1.3" fill="#fff" opacity="0.8"/>
<text x="243.50" y="352.20" font-size="8.2" fill="#222" stroke="#222" stroke-width="0.1" text-anchor="middle">−2</text>
<rect x="253.55" y="332.1" width="0.8" height="1.3" fill="#fff" opacity="0.8"/>
<rect x="253.55" y="339.8" width="0.8" height="1.3" fill="#fff" opacity="0.8"/>
<text x="253.95" y="352.20" font-size="8.2" fill="#222" stroke="#222" stroke-width="0.1" text-anchor="middle">−1</text>
<rect x="264.00" y="332.1" width="0.8" height="1.3" fill="#fff" opacity="0.8"/>
<rect x="264.00" y="339.8" width="0.8" height="1.3" fill="#fff" opacity="0.8"/>
<text x="264.40" y="352.20" font-size="8.2" fill="#222" stroke="#222" stroke-width="0.1" text-anchor="middle">0</text>
<rect x="274.45" y="332.1" width="0.8" height="1.3" fill="#fff" opacity="0.8"/>
<rect x="274.45" y="339.8" width="0.8" height="1.3" fill="#fff" opacity="0.8"/>
<text x="274.85" y="352.20" font-size="8.2" fill="#222" stroke="#222" stroke-width="0.1" text-anchor="middle">1</text>
<rect x="284.90" y="332.1" width="0.8" height="1.3" fill="#fff" opacity="0.8"/>
<rect x="284.90" y="339.8" width="0.8" height="1.3" fill="#fff" opacity="0.8"/>
<text x="285.30" y="352.20" font-size="8.2" fill="#222" stroke="#222" stroke-width="0.1" text-anchor="middle">2</text>
<text x="406.60" y="328.80" font-size="8.2" fill="#111" stroke="#111" stroke-width="0.1" font-weight="bold" textLength="28.6" lengthAdjust="spacingAndGlyphs">z-score</text>
<defs><linearGradient id="g406" x1="0" x2="1" y1="0" y2="0"><stop offset="0.1" stop-color="#0000ff"/><stop offset="0.5" stop-color="#ffffff"/><stop offset="0.9" stop-color="#ff0000"/></linearGradient></defs>
<rect x="406.3" y="332.1" width="52" height="9.0" fill="url(#g406)"/>
<rect x="411.40" y="332.1" width="0.8" height="1.3" fill="#fff" opacity="0.8"/>
<rect x="411.40" y="339.8" width="0.8" height="1.3" fill="#fff" opacity="0.8"/>
<text x="411.80" y="352.20" font-size="8.2" fill="#222" stroke="#222" stroke-width="0.1" text-anchor="middle">−2</text>
<rect x="421.85" y="332.1" width="0.8" height="1.3" fill="#fff" opacity="0.8"/>
<rect x="421.85" y="339.8" width="0.8" height="1.3" fill="#fff" opacity="0.8"/>
<text x="422.25" y="352.20" font-size="8.2" fill="#222" stroke="#222" stroke-width="0.1" text-anchor="middle">−1</text>
<rect x="432.30" y="332.1" width="0.8" height="1.3" fill="#fff" opacity="0.8"/>
<rect x="432.30" y="339.8" width="0.8" height="1.3" fill="#fff" opacity="0.8"/>
<text x="432.70" y="352.20" font-size="8.2" fill="#222" stroke="#222" stroke-width="0.1" text-anchor="middle">0</text>
<rect x="442.75" y="332.1" width="0.8" height="1.3" fill="#fff" opacity="0.8"/>
<rect x="442.75" y="339.8" width="0.8" height="1.3" fill="#fff" opacity="0.8"/>
<text x="443.15" y="352.20" font-size="8.2" fill="#222" stroke="#222" stroke-width="0.1" text-anchor="middle">1</text>
<rect x="453.20" y="332.1" width="0.8" height="1.3" fill="#fff" opacity="0.8"/>
<rect x="453.20" y="339.8" width="0.8" height="1.3" fill="#fff" opacity="0.8"/>
<text x="453.60" y="352.20" font-size="8.2" fill="#222" stroke="#222" stroke-width="0.1" text-anchor="middle">2</text>
<rect x="0" y="0" width="520" height="1.05" fill="#000"/>
<rect x="0" y="0" width="1.15" height="362" fill="#000"/>
<rect x="518.85" y="0" width="1.15" height="362" fill="#000"/>
<rect x="0" y="360.75" width="520" height="1.25" fill="#000"/>
</svg>
</body></html>
